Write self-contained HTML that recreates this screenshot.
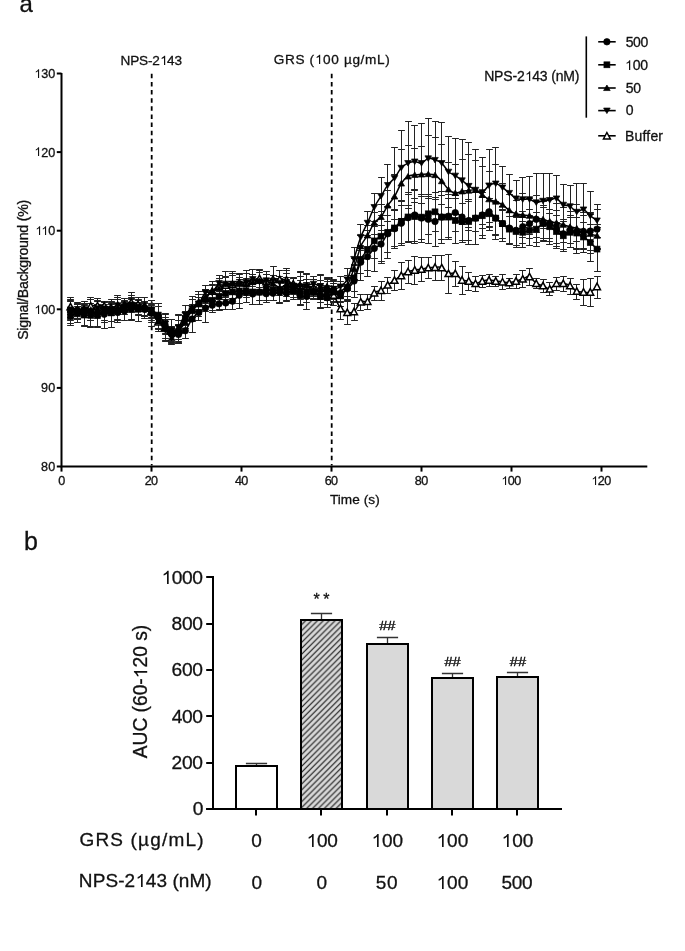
<!DOCTYPE html><html><head><meta charset="utf-8"><style>html,body{margin:0;padding:0;background:#fff;overflow:hidden}svg{display:block;will-change:transform}text{font-family:"Liberation Sans",sans-serif;fill:#111;stroke:#111;stroke-width:0.3px}.h{fill-opacity:0;stroke-opacity:0}.one{fill:#111;stroke:#111;stroke-width:0.3px}</style></head><body>
<svg width="685" height="951" viewBox="0 0 685 951">
<rect width="685" height="951" fill="#fff"/>
<text x="19.58" y="11.60" font-size="24">a</text>
<text x="24.07" y="549.80" font-size="25">b</text>
<g stroke="#000" stroke-width="2" fill="none">
<path d="M61.5,73.0V466.5H647.3"/>
<path d="M56.8,466.50H61.5"/>
<path d="M56.8,387.90H61.5"/>
<path d="M56.8,309.30H61.5"/>
<path d="M56.8,230.70H61.5"/>
<path d="M56.8,152.10H61.5"/>
<path d="M56.8,73.50H61.5"/>
<path d="M61.5,466.5V471.6"/>
<path d="M151.5,466.5V471.6"/>
<path d="M241.5,466.5V471.6"/>
<path d="M331.5,466.5V471.6"/>
<path d="M421.5,466.5V471.6"/>
<path d="M511.5,466.5V471.6"/>
<path d="M601.5,466.5V471.6"/>
</g>
<g stroke="#000" stroke-width="1.8" stroke-dasharray="4.5 3.628">
<path d="M151.7,73.8V465.5"/>
<path d="M331.7,73.8V465.5"/>
</g>
<text x="41.10" y="470.90" font-size="12.6" textLength="14.20" lengthAdjust="spacing">80</text>
<text x="41.10" y="392.30" font-size="12.6" textLength="14.20" lengthAdjust="spacing">90</text>
<text id="o1" x="34.40" y="313.70" font-size="12.6" textLength="20.89" lengthAdjust="spacing"><tspan class="h">1</tspan>00</text>
<text id="o2" x="35.30" y="235.10" font-size="12.6" textLength="20.00" lengthAdjust="spacing"><tspan class="h">1</tspan><tspan class="h">1</tspan>0</text>
<text id="o3" x="34.40" y="156.50" font-size="12.6" textLength="20.89" lengthAdjust="spacing"><tspan class="h">1</tspan>20</text>
<text id="o4" x="34.40" y="77.90" font-size="12.6" textLength="20.89" lengthAdjust="spacing"><tspan class="h">1</tspan>30</text>
<text x="58.13" y="484.60" font-size="12.6">0</text>
<text x="144.74" y="484.60" font-size="12.6" textLength="13.40" lengthAdjust="spacing">20</text>
<text x="234.92" y="484.60" font-size="12.6" textLength="13.39" lengthAdjust="spacing">40</text>
<text x="324.74" y="484.60" font-size="12.6" textLength="13.40" lengthAdjust="spacing">60</text>
<text x="414.78" y="484.60" font-size="12.6" textLength="13.40" lengthAdjust="spacing">80</text>
<text id="o5" x="501.23" y="484.60" font-size="12.6" textLength="20.09" lengthAdjust="spacing"><tspan class="h">1</tspan>00</text>
<text id="o6" x="591.22" y="484.60" font-size="12.6" textLength="20.09" lengthAdjust="spacing"><tspan class="h">1</tspan>20</text>
<text x="329.89" y="503.50" font-size="13.6" textLength="49.78" lengthAdjust="spacing">Time (s)</text>
<text transform="translate(27.60,339.84) rotate(-90)" x="0" y="0" font-size="14.2" textLength="140.13" lengthAdjust="spacing">Signal/Background (%)</text>
<text id="o7" x="120.48" y="65.20" font-size="13.6" textLength="61.52" lengthAdjust="spacing">NPS-2<tspan class="h">1</tspan>43</text>
<text id="o8" x="273.72" y="63.60" font-size="13.6" textLength="116.05" lengthAdjust="spacing">GRS (<tspan class="h">1</tspan>00 µg/mL)</text>
<path d="M586.3,36.4V117.7" stroke="#000" stroke-width="1.6"/>
<text id="o9" x="484.15" y="80.80" font-size="14" textLength="95.32" lengthAdjust="spacing">NPS-2<tspan class="h">1</tspan>43 (nM)</text>
<path d="M598.2,41.8H615.7" stroke="#000" stroke-width="1.6"/>
<g stroke="#000" stroke-width="0.7"><circle cx="606.90" cy="41.80" r="3.24"/></g>
<text x="625.64" y="46.50" font-size="14" textLength="22.70" lengthAdjust="spacing">500</text>
<path d="M598.2,64.8H615.7" stroke="#000" stroke-width="1.6"/>
<g stroke="#000" stroke-width="0.7"><rect x="603.96" y="61.86" width="5.88" height="5.88"/></g>
<text id="o10" x="625.15" y="69.50" font-size="14" textLength="22.99" lengthAdjust="spacing"><tspan class="h">1</tspan>00</text>
<path d="M598.2,88.0H615.7" stroke="#000" stroke-width="1.6"/>
<g stroke="#000" stroke-width="0.7"><path d="M606.90,85.00L610.20,90.55L603.60,90.55Z"/></g>
<text x="625.64" y="92.70" font-size="14" textLength="15.32" lengthAdjust="spacing">50</text>
<path d="M598.2,110.6H615.7" stroke="#000" stroke-width="1.6"/>
<g stroke="#000" stroke-width="0.7"><path d="M606.90,113.60L610.20,108.05L603.60,108.05Z"/></g>
<text x="625.64" y="115.30" font-size="14">0</text>
<path d="M598.2,135.8H615.7" stroke="#000" stroke-width="1.6"/>
<g stroke="#000" stroke-width="0.7"><path d="M606.90,132.50L610.35,138.95L603.45,138.95Z" fill="#fff" stroke="#000" stroke-width="1.5"/></g>
<text x="625.05" y="140.50" font-size="14" textLength="37.97" lengthAdjust="spacing">Buffer</text>
<g stroke="#222" stroke-width="1" fill="none">
<path d="M70.50,299.50V314.50M67.10,299.50h6.8M67.10,314.50h6.8"/>
<path d="M77.50,303.50V319.50M74.10,303.50h6.8M74.10,319.50h6.8"/>
<path d="M84.50,303.50V315.50M81.10,303.50h6.8M81.10,315.50h6.8"/>
<path d="M90.50,297.50V315.50M87.10,297.50h6.8M87.10,315.50h6.8"/>
<path d="M97.50,298.50V314.50M94.10,298.50h6.8M94.10,314.50h6.8"/>
<path d="M104.50,301.50V311.50M101.10,301.50h6.8M101.10,311.50h6.8"/>
<path d="M111.50,302.50V313.50M108.10,302.50h6.8M108.10,313.50h6.8"/>
<path d="M117.50,299.50V312.50M114.10,299.50h6.8M114.10,312.50h6.8"/>
<path d="M124.50,300.50V310.50M121.10,300.50h6.8M121.10,310.50h6.8"/>
<path d="M131.50,295.50V309.50M128.10,295.50h6.8M128.10,309.50h6.8"/>
<path d="M138.50,300.50V309.50M135.10,300.50h6.8M135.10,309.50h6.8"/>
<path d="M144.50,301.50V311.50M141.10,301.50h6.8M141.10,311.50h6.8"/>
<path d="M151.50,304.50V318.50M148.10,304.50h6.8M148.10,318.50h6.8"/>
<path d="M158.50,316.50V328.50M155.10,316.50h6.8M155.10,328.50h6.8"/>
<path d="M165.50,314.50V341.50M162.10,314.50h6.8M162.10,341.50h6.8"/>
<path d="M171.50,319.50V343.50M168.10,319.50h6.8M168.10,343.50h6.8"/>
<path d="M178.50,315.50V342.50M175.10,315.50h6.8M175.10,342.50h6.8"/>
<path d="M185.50,311.50V325.50M182.10,311.50h6.8M182.10,325.50h6.8"/>
<path d="M192.50,296.50V320.50M189.10,296.50h6.8M189.10,320.50h6.8"/>
<path d="M198.50,291.50V314.50M195.10,291.50h6.8M195.10,314.50h6.8"/>
<path d="M205.50,289.50V307.50M202.10,289.50h6.8M202.10,307.50h6.8"/>
<path d="M212.50,284.50V298.50M209.10,284.50h6.8M209.10,298.50h6.8"/>
<path d="M219.50,278.50V295.50M216.10,278.50h6.8M216.10,295.50h6.8"/>
<path d="M225.50,271.50V299.50M222.10,271.50h6.8M222.10,299.50h6.8"/>
<path d="M232.50,271.50V298.50M229.10,271.50h6.8M229.10,298.50h6.8"/>
<path d="M239.50,274.50V291.50M236.10,274.50h6.8M236.10,291.50h6.8"/>
<path d="M246.50,270.50V295.50M243.10,270.50h6.8M243.10,295.50h6.8"/>
<path d="M252.50,274.50V286.50M249.10,274.50h6.8M249.10,286.50h6.8"/>
<path d="M259.50,270.50V287.50M256.10,270.50h6.8M256.10,287.50h6.8"/>
<path d="M266.50,274.50V289.50M263.10,274.50h6.8M263.10,289.50h6.8"/>
<path d="M273.50,266.50V293.50M270.10,266.50h6.8M270.10,293.50h6.8"/>
<path d="M279.50,270.50V288.50M276.10,270.50h6.8M276.10,288.50h6.8"/>
<path d="M286.50,268.50V292.50M283.10,268.50h6.8M283.10,292.50h6.8"/>
<path d="M293.50,278.50V290.50M290.10,278.50h6.8M290.10,290.50h6.8"/>
<path d="M300.50,272.50V299.50M297.10,272.50h6.8M297.10,299.50h6.8"/>
<path d="M306.50,274.50V298.50M303.10,274.50h6.8M303.10,298.50h6.8"/>
<path d="M313.50,279.50V296.50M310.10,279.50h6.8M310.10,296.50h6.8"/>
<path d="M320.50,275.50V302.50M317.10,275.50h6.8M317.10,302.50h6.8"/>
<path d="M327.50,279.50V295.50M324.10,279.50h6.8M324.10,295.50h6.8"/>
<path d="M333.50,286.50V305.50M330.10,286.50h6.8M330.10,305.50h6.8"/>
<path d="M340.50,298.50V319.50M337.10,298.50h6.8M337.10,319.50h6.8"/>
<path d="M347.50,301.50V324.50M344.10,301.50h6.8M344.10,324.50h6.8"/>
<path d="M354.50,303.50V320.50M351.10,303.50h6.8M351.10,320.50h6.8"/>
<path d="M360.50,294.50V310.50M357.10,294.50h6.8M357.10,310.50h6.8"/>
<path d="M367.50,294.50V309.50M364.10,294.50h6.8M364.10,309.50h6.8"/>
<path d="M374.50,286.50V300.50M371.10,286.50h6.8M371.10,300.50h6.8"/>
<path d="M381.50,281.50V300.50M378.10,281.50h6.8M378.10,300.50h6.8"/>
<path d="M387.50,277.50V293.50M384.10,277.50h6.8M384.10,293.50h6.8"/>
<path d="M394.50,270.50V290.50M391.10,270.50h6.8M391.10,290.50h6.8"/>
<path d="M401.50,262.50V289.50M398.10,262.50h6.8M398.10,289.50h6.8"/>
<path d="M408.50,260.50V283.50M405.10,260.50h6.8M405.10,283.50h6.8"/>
<path d="M414.50,256.50V284.50M411.10,256.50h6.8M411.10,284.50h6.8"/>
<path d="M421.50,257.50V281.50M418.10,257.50h6.8M418.10,281.50h6.8"/>
<path d="M428.50,257.50V278.50M425.10,257.50h6.8M425.10,278.50h6.8"/>
<path d="M435.50,255.50V280.50M432.10,255.50h6.8M432.10,280.50h6.8"/>
<path d="M441.50,255.50V280.50M438.10,255.50h6.8M438.10,280.50h6.8"/>
<path d="M448.50,254.50V293.50M445.10,254.50h6.8M445.10,293.50h6.8"/>
<path d="M455.50,261.50V286.50M452.10,261.50h6.8M452.10,286.50h6.8"/>
<path d="M462.50,266.50V294.50M459.10,266.50h6.8M459.10,294.50h6.8"/>
<path d="M468.50,272.50V290.50M465.10,272.50h6.8M465.10,290.50h6.8"/>
<path d="M475.50,276.50V291.50M472.10,276.50h6.8M472.10,291.50h6.8"/>
<path d="M482.50,275.50V287.50M479.10,275.50h6.8M479.10,287.50h6.8"/>
<path d="M489.50,274.50V286.50M486.10,274.50h6.8M486.10,286.50h6.8"/>
<path d="M495.50,276.50V286.50M492.10,276.50h6.8M492.10,286.50h6.8"/>
<path d="M502.50,274.50V289.50M499.10,274.50h6.8M499.10,289.50h6.8"/>
<path d="M509.50,278.50V288.50M506.10,278.50h6.8M506.10,288.50h6.8"/>
<path d="M516.50,274.50V288.50M513.10,274.50h6.8M513.10,288.50h6.8"/>
<path d="M522.50,270.50V287.50M519.10,270.50h6.8M519.10,287.50h6.8"/>
<path d="M529.50,268.50V285.50M526.10,268.50h6.8M526.10,285.50h6.8"/>
<path d="M536.50,278.50V288.50M533.10,278.50h6.8M533.10,288.50h6.8"/>
<path d="M543.50,279.50V292.50M540.10,279.50h6.8M540.10,292.50h6.8"/>
<path d="M549.50,282.50V295.50M546.10,282.50h6.8M546.10,295.50h6.8"/>
<path d="M556.50,277.50V290.50M553.10,277.50h6.8M553.10,290.50h6.8"/>
<path d="M563.50,276.50V291.50M560.10,276.50h6.8M560.10,291.50h6.8"/>
<path d="M570.50,278.50V294.50M567.10,278.50h6.8M567.10,294.50h6.8"/>
<path d="M576.50,284.50V299.50M573.10,284.50h6.8M573.10,299.50h6.8"/>
<path d="M583.50,279.50V305.50M580.10,279.50h6.8M580.10,305.50h6.8"/>
<path d="M590.50,278.50V306.50M587.10,278.50h6.8M587.10,306.50h6.8"/>
<path d="M597.50,276.50V298.50M594.10,276.50h6.8M594.10,298.50h6.8"/>
<path d="M70.50,297.50V325.50M67.10,297.50h6.8M67.10,325.50h6.8"/>
<path d="M77.50,302.50V318.50M74.10,302.50h6.8M74.10,318.50h6.8"/>
<path d="M84.50,303.50V317.50M81.10,303.50h6.8M81.10,317.50h6.8"/>
<path d="M90.50,299.50V326.50M87.10,299.50h6.8M87.10,326.50h6.8"/>
<path d="M97.50,300.50V326.50M94.10,300.50h6.8M94.10,326.50h6.8"/>
<path d="M104.50,301.50V328.50M101.10,301.50h6.8M101.10,328.50h6.8"/>
<path d="M111.50,301.50V321.50M108.10,301.50h6.8M108.10,321.50h6.8"/>
<path d="M117.50,306.50V319.50M114.10,306.50h6.8M114.10,319.50h6.8"/>
<path d="M124.50,301.50V320.50M121.10,301.50h6.8M121.10,320.50h6.8"/>
<path d="M131.50,298.50V320.50M128.10,298.50h6.8M128.10,320.50h6.8"/>
<path d="M138.50,302.50V314.50M135.10,302.50h6.8M135.10,314.50h6.8"/>
<path d="M144.50,303.50V316.50M141.10,303.50h6.8M141.10,316.50h6.8"/>
<path d="M151.50,305.50V322.50M148.10,305.50h6.8M148.10,322.50h6.8"/>
<path d="M158.50,306.50V329.50M155.10,306.50h6.8M155.10,329.50h6.8"/>
<path d="M165.50,317.50V333.50M162.10,317.50h6.8M162.10,333.50h6.8"/>
<path d="M171.50,326.50V342.50M168.10,326.50h6.8M168.10,342.50h6.8"/>
<path d="M178.50,325.50V343.50M175.10,325.50h6.8M175.10,343.50h6.8"/>
<path d="M185.50,324.50V338.50M182.10,324.50h6.8M182.10,338.50h6.8"/>
<path d="M192.50,306.50V332.50M189.10,306.50h6.8M189.10,332.50h6.8"/>
<path d="M198.50,305.50V320.50M195.10,305.50h6.8M195.10,320.50h6.8"/>
<path d="M205.50,294.50V322.50M202.10,294.50h6.8M202.10,322.50h6.8"/>
<path d="M212.50,298.50V312.50M209.10,298.50h6.8M209.10,312.50h6.8"/>
<path d="M219.50,297.50V310.50M216.10,297.50h6.8M216.10,310.50h6.8"/>
<path d="M225.50,297.50V309.50M222.10,297.50h6.8M222.10,309.50h6.8"/>
<path d="M232.50,293.50V309.50M229.10,293.50h6.8M229.10,309.50h6.8"/>
<path d="M239.50,282.50V308.50M236.10,282.50h6.8M236.10,308.50h6.8"/>
<path d="M246.50,283.50V302.50M243.10,283.50h6.8M243.10,302.50h6.8"/>
<path d="M252.50,284.50V304.50M249.10,284.50h6.8M249.10,304.50h6.8"/>
<path d="M259.50,283.50V300.50M256.10,283.50h6.8M256.10,300.50h6.8"/>
<path d="M266.50,286.50V302.50M263.10,286.50h6.8M263.10,302.50h6.8"/>
<path d="M273.50,287.50V300.50M270.10,287.50h6.8M270.10,300.50h6.8"/>
<path d="M279.50,281.50V303.50M276.10,281.50h6.8M276.10,303.50h6.8"/>
<path d="M286.50,286.50V301.50M283.10,286.50h6.8M283.10,301.50h6.8"/>
<path d="M293.50,283.50V299.50M290.10,283.50h6.8M290.10,299.50h6.8"/>
<path d="M300.50,286.50V305.50M297.10,286.50h6.8M297.10,305.50h6.8"/>
<path d="M306.50,284.50V309.50M303.10,284.50h6.8M303.10,309.50h6.8"/>
<path d="M313.50,286.50V298.50M310.10,286.50h6.8M310.10,298.50h6.8"/>
<path d="M320.50,283.50V307.50M317.10,283.50h6.8M317.10,307.50h6.8"/>
<path d="M327.50,288.50V307.50M324.10,288.50h6.8M324.10,307.50h6.8"/>
<path d="M333.50,281.50V302.50M330.10,281.50h6.8M330.10,302.50h6.8"/>
<path d="M340.50,285.50V302.50M337.10,285.50h6.8M337.10,302.50h6.8"/>
<path d="M347.50,277.50V300.50M344.10,277.50h6.8M344.10,300.50h6.8"/>
<path d="M354.50,265.50V297.50M351.10,265.50h6.8M351.10,297.50h6.8"/>
<path d="M360.50,245.50V280.50M357.10,245.50h6.8M357.10,280.50h6.8"/>
<path d="M367.50,237.50V276.50M364.10,237.50h6.8M364.10,276.50h6.8"/>
<path d="M374.50,226.50V271.50M371.10,226.50h6.8M371.10,271.50h6.8"/>
<path d="M381.50,225.50V263.50M378.10,225.50h6.8M378.10,263.50h6.8"/>
<path d="M387.50,215.50V252.50M384.10,215.50h6.8M384.10,252.50h6.8"/>
<path d="M394.50,210.50V248.50M391.10,210.50h6.8M391.10,248.50h6.8"/>
<path d="M401.50,201.50V245.50M398.10,201.50h6.8M398.10,245.50h6.8"/>
<path d="M408.50,194.50V241.50M405.10,194.50h6.8M405.10,241.50h6.8"/>
<path d="M414.50,189.50V241.50M411.10,189.50h6.8M411.10,241.50h6.8"/>
<path d="M421.50,194.50V242.50M418.10,194.50h6.8M418.10,242.50h6.8"/>
<path d="M428.50,196.50V243.50M425.10,196.50h6.8M425.10,243.50h6.8"/>
<path d="M435.50,197.50V246.50M432.10,197.50h6.8M432.10,246.50h6.8"/>
<path d="M441.50,195.50V239.50M438.10,195.50h6.8M438.10,239.50h6.8"/>
<path d="M448.50,194.50V239.50M445.10,194.50h6.8M445.10,239.50h6.8"/>
<path d="M455.50,195.50V231.50M452.10,195.50h6.8M452.10,231.50h6.8"/>
<path d="M462.50,193.50V242.50M459.10,193.50h6.8M459.10,242.50h6.8"/>
<path d="M468.50,201.50V240.50M465.10,201.50h6.8M465.10,240.50h6.8"/>
<path d="M475.50,192.50V244.50M472.10,192.50h6.8M472.10,244.50h6.8"/>
<path d="M482.50,192.50V238.50M479.10,192.50h6.8M479.10,238.50h6.8"/>
<path d="M489.50,198.50V226.50M486.10,198.50h6.8M486.10,226.50h6.8"/>
<path d="M495.50,202.50V234.50M492.10,202.50h6.8M492.10,234.50h6.8"/>
<path d="M502.50,210.50V238.50M499.10,210.50h6.8M499.10,238.50h6.8"/>
<path d="M509.50,212.50V244.50M506.10,212.50h6.8M506.10,244.50h6.8"/>
<path d="M516.50,215.50V245.50M513.10,215.50h6.8M513.10,245.50h6.8"/>
<path d="M522.50,211.50V243.50M519.10,211.50h6.8M519.10,243.50h6.8"/>
<path d="M529.50,209.50V238.50M526.10,209.50h6.8M526.10,238.50h6.8"/>
<path d="M536.50,201.50V237.50M533.10,201.50h6.8M533.10,237.50h6.8"/>
<path d="M543.50,205.50V240.50M540.10,205.50h6.8M540.10,240.50h6.8"/>
<path d="M549.50,209.50V238.50M546.10,209.50h6.8M546.10,238.50h6.8"/>
<path d="M556.50,210.50V246.50M553.10,210.50h6.8M553.10,246.50h6.8"/>
<path d="M563.50,219.50V249.50M560.10,219.50h6.8M560.10,249.50h6.8"/>
<path d="M570.50,215.50V247.50M567.10,215.50h6.8M567.10,247.50h6.8"/>
<path d="M576.50,217.50V248.50M573.10,217.50h6.8M573.10,248.50h6.8"/>
<path d="M583.50,215.50V248.50M580.10,215.50h6.8M580.10,248.50h6.8"/>
<path d="M590.50,212.50V250.50M587.10,212.50h6.8M587.10,250.50h6.8"/>
<path d="M597.50,209.50V249.50M594.10,209.50h6.8M594.10,249.50h6.8"/>
<path d="M70.50,311.50V323.50M67.10,311.50h6.8M67.10,323.50h6.8"/>
<path d="M77.50,306.50V322.50M74.10,306.50h6.8M74.10,322.50h6.8"/>
<path d="M84.50,304.50V326.50M81.10,304.50h6.8M81.10,326.50h6.8"/>
<path d="M90.50,303.50V327.50M87.10,303.50h6.8M87.10,327.50h6.8"/>
<path d="M97.50,304.50V327.50M94.10,304.50h6.8M94.10,327.50h6.8"/>
<path d="M104.50,302.50V320.50M101.10,302.50h6.8M101.10,320.50h6.8"/>
<path d="M111.50,299.50V327.50M108.10,299.50h6.8M108.10,327.50h6.8"/>
<path d="M117.50,299.50V322.50M114.10,299.50h6.8M114.10,322.50h6.8"/>
<path d="M124.50,302.50V314.50M121.10,302.50h6.8M121.10,314.50h6.8"/>
<path d="M131.50,292.50V319.50M128.10,292.50h6.8M128.10,319.50h6.8"/>
<path d="M138.50,297.50V321.50M135.10,297.50h6.8M135.10,321.50h6.8"/>
<path d="M144.50,302.50V316.50M141.10,302.50h6.8M141.10,316.50h6.8"/>
<path d="M151.50,300.50V320.50M148.10,300.50h6.8M148.10,320.50h6.8"/>
<path d="M158.50,303.50V328.50M155.10,303.50h6.8M155.10,328.50h6.8"/>
<path d="M165.50,313.50V334.50M162.10,313.50h6.8M162.10,334.50h6.8"/>
<path d="M171.50,319.50V342.50M168.10,319.50h6.8M168.10,342.50h6.8"/>
<path d="M178.50,324.50V339.50M175.10,324.50h6.8M175.10,339.50h6.8"/>
<path d="M185.50,312.50V325.50M182.10,312.50h6.8M182.10,325.50h6.8"/>
<path d="M192.50,304.50V317.50M189.10,304.50h6.8M189.10,317.50h6.8"/>
<path d="M198.50,294.50V314.50M195.10,294.50h6.8M195.10,314.50h6.8"/>
<path d="M205.50,289.50V311.50M202.10,289.50h6.8M202.10,311.50h6.8"/>
<path d="M212.50,290.50V310.50M209.10,290.50h6.8M209.10,310.50h6.8"/>
<path d="M219.50,284.50V309.50M216.10,284.50h6.8M216.10,309.50h6.8"/>
<path d="M225.50,284.50V303.50M222.10,284.50h6.8M222.10,303.50h6.8"/>
<path d="M232.50,281.50V303.50M229.10,281.50h6.8M229.10,303.50h6.8"/>
<path d="M239.50,279.50V303.50M236.10,279.50h6.8M236.10,303.50h6.8"/>
<path d="M246.50,285.50V297.50M243.10,285.50h6.8M243.10,297.50h6.8"/>
<path d="M252.50,280.50V304.50M249.10,280.50h6.8M249.10,304.50h6.8"/>
<path d="M259.50,280.50V304.50M256.10,280.50h6.8M256.10,304.50h6.8"/>
<path d="M266.50,280.50V300.50M263.10,280.50h6.8M263.10,300.50h6.8"/>
<path d="M273.50,280.50V300.50M270.10,280.50h6.8M270.10,300.50h6.8"/>
<path d="M279.50,278.50V302.50M276.10,278.50h6.8M276.10,302.50h6.8"/>
<path d="M286.50,277.50V300.50M283.10,277.50h6.8M283.10,300.50h6.8"/>
<path d="M293.50,283.50V297.50M290.10,283.50h6.8M290.10,297.50h6.8"/>
<path d="M300.50,280.50V304.50M297.10,280.50h6.8M297.10,304.50h6.8"/>
<path d="M306.50,282.50V302.50M303.10,282.50h6.8M303.10,302.50h6.8"/>
<path d="M313.50,286.50V299.50M310.10,286.50h6.8M310.10,299.50h6.8"/>
<path d="M320.50,285.50V308.50M317.10,285.50h6.8M317.10,308.50h6.8"/>
<path d="M327.50,281.50V304.50M324.10,281.50h6.8M324.10,304.50h6.8"/>
<path d="M333.50,283.50V301.50M330.10,283.50h6.8M330.10,301.50h6.8"/>
<path d="M340.50,286.50V306.50M337.10,286.50h6.8M337.10,306.50h6.8"/>
<path d="M347.50,275.50V299.50M344.10,275.50h6.8M344.10,299.50h6.8"/>
<path d="M354.50,264.50V291.50M351.10,264.50h6.8M351.10,291.50h6.8"/>
<path d="M360.50,246.50V273.50M357.10,246.50h6.8M357.10,273.50h6.8"/>
<path d="M367.50,230.50V270.50M364.10,230.50h6.8M364.10,270.50h6.8"/>
<path d="M374.50,224.50V258.50M371.10,224.50h6.8M371.10,258.50h6.8"/>
<path d="M381.50,211.50V261.50M378.10,211.50h6.8M378.10,261.50h6.8"/>
<path d="M387.50,206.50V258.50M384.10,206.50h6.8M384.10,258.50h6.8"/>
<path d="M394.50,210.50V246.50M391.10,210.50h6.8M391.10,246.50h6.8"/>
<path d="M401.50,200.50V243.50M398.10,200.50h6.8M398.10,243.50h6.8"/>
<path d="M408.50,192.50V242.50M405.10,192.50h6.8M405.10,242.50h6.8"/>
<path d="M414.50,190.50V243.50M411.10,190.50h6.8M411.10,243.50h6.8"/>
<path d="M421.50,196.50V239.50M418.10,196.50h6.8M418.10,239.50h6.8"/>
<path d="M428.50,194.50V234.50M425.10,194.50h6.8M425.10,234.50h6.8"/>
<path d="M435.50,192.50V231.50M432.10,192.50h6.8M432.10,231.50h6.8"/>
<path d="M441.50,191.50V243.50M438.10,191.50h6.8M438.10,243.50h6.8"/>
<path d="M448.50,198.50V237.50M445.10,198.50h6.8M445.10,237.50h6.8"/>
<path d="M455.50,198.50V243.50M452.10,198.50h6.8M452.10,243.50h6.8"/>
<path d="M462.50,203.50V240.50M459.10,203.50h6.8M459.10,240.50h6.8"/>
<path d="M468.50,199.50V244.50M465.10,199.50h6.8M465.10,244.50h6.8"/>
<path d="M475.50,192.50V244.50M472.10,192.50h6.8M472.10,244.50h6.8"/>
<path d="M482.50,197.50V235.50M479.10,197.50h6.8M479.10,235.50h6.8"/>
<path d="M489.50,198.50V230.50M486.10,198.50h6.8M486.10,230.50h6.8"/>
<path d="M495.50,201.50V235.50M492.10,201.50h6.8M492.10,235.50h6.8"/>
<path d="M502.50,206.50V241.50M499.10,206.50h6.8M499.10,241.50h6.8"/>
<path d="M509.50,216.50V243.50M506.10,216.50h6.8M506.10,243.50h6.8"/>
<path d="M516.50,216.50V247.50M513.10,216.50h6.8M513.10,247.50h6.8"/>
<path d="M522.50,217.50V247.50M519.10,217.50h6.8M519.10,247.50h6.8"/>
<path d="M529.50,215.50V245.50M526.10,215.50h6.8M526.10,245.50h6.8"/>
<path d="M536.50,212.50V246.50M533.10,212.50h6.8M533.10,246.50h6.8"/>
<path d="M543.50,207.50V241.50M540.10,207.50h6.8M540.10,241.50h6.8"/>
<path d="M549.50,213.50V241.50M546.10,213.50h6.8M546.10,241.50h6.8"/>
<path d="M556.50,215.50V248.50M553.10,215.50h6.8M553.10,248.50h6.8"/>
<path d="M563.50,221.50V251.50M560.10,221.50h6.8M560.10,251.50h6.8"/>
<path d="M570.50,217.50V247.50M567.10,217.50h6.8M567.10,247.50h6.8"/>
<path d="M576.50,217.50V249.50M573.10,217.50h6.8M573.10,249.50h6.8"/>
<path d="M583.50,222.50V252.50M580.10,222.50h6.8M580.10,252.50h6.8"/>
<path d="M590.50,224.50V261.50M587.10,224.50h6.8M587.10,261.50h6.8"/>
<path d="M597.50,227.50V271.50M594.10,227.50h6.8M594.10,271.50h6.8"/>
<path d="M70.50,300.50V320.50M67.10,300.50h6.8M67.10,320.50h6.8"/>
<path d="M77.50,304.50V319.50M74.10,304.50h6.8M74.10,319.50h6.8"/>
<path d="M84.50,301.50V325.50M81.10,301.50h6.8M81.10,325.50h6.8"/>
<path d="M90.50,299.50V320.50M87.10,299.50h6.8M87.10,320.50h6.8"/>
<path d="M97.50,304.50V316.50M94.10,304.50h6.8M94.10,316.50h6.8"/>
<path d="M104.50,301.50V322.50M101.10,301.50h6.8M101.10,322.50h6.8"/>
<path d="M111.50,303.50V315.50M108.10,303.50h6.8M108.10,315.50h6.8"/>
<path d="M117.50,295.50V320.50M114.10,295.50h6.8M114.10,320.50h6.8"/>
<path d="M124.50,298.50V311.50M121.10,298.50h6.8M121.10,311.50h6.8"/>
<path d="M131.50,299.50V311.50M128.10,299.50h6.8M128.10,311.50h6.8"/>
<path d="M138.50,299.50V315.50M135.10,299.50h6.8M135.10,315.50h6.8"/>
<path d="M144.50,297.50V315.50M141.10,297.50h6.8M141.10,315.50h6.8"/>
<path d="M151.50,300.50V326.50M148.10,300.50h6.8M148.10,326.50h6.8"/>
<path d="M158.50,315.50V328.50M155.10,315.50h6.8M155.10,328.50h6.8"/>
<path d="M165.50,319.50V340.50M162.10,319.50h6.8M162.10,340.50h6.8"/>
<path d="M171.50,332.50V344.50M168.10,332.50h6.8M168.10,344.50h6.8"/>
<path d="M178.50,320.50V343.50M175.10,320.50h6.8M175.10,343.50h6.8"/>
<path d="M185.50,316.50V328.50M182.10,316.50h6.8M182.10,328.50h6.8"/>
<path d="M192.50,299.50V321.50M189.10,299.50h6.8M189.10,321.50h6.8"/>
<path d="M198.50,297.50V309.50M195.10,297.50h6.8M195.10,309.50h6.8"/>
<path d="M205.50,291.50V303.50M202.10,291.50h6.8M202.10,303.50h6.8"/>
<path d="M212.50,281.50V300.50M209.10,281.50h6.8M209.10,300.50h6.8"/>
<path d="M219.50,278.50V299.50M216.10,278.50h6.8M216.10,299.50h6.8"/>
<path d="M225.50,276.50V292.50M222.10,276.50h6.8M222.10,292.50h6.8"/>
<path d="M232.50,273.50V294.50M229.10,273.50h6.8M229.10,294.50h6.8"/>
<path d="M239.50,277.50V290.50M236.10,277.50h6.8M236.10,290.50h6.8"/>
<path d="M246.50,278.50V291.50M243.10,278.50h6.8M243.10,291.50h6.8"/>
<path d="M252.50,274.50V290.50M249.10,274.50h6.8M249.10,290.50h6.8"/>
<path d="M259.50,269.50V293.50M256.10,269.50h6.8M256.10,293.50h6.8"/>
<path d="M266.50,274.50V294.50M263.10,274.50h6.8M263.10,294.50h6.8"/>
<path d="M273.50,275.50V292.50M270.10,275.50h6.8M270.10,292.50h6.8"/>
<path d="M279.50,280.50V295.50M276.10,280.50h6.8M276.10,295.50h6.8"/>
<path d="M286.50,273.50V296.50M283.10,273.50h6.8M283.10,296.50h6.8"/>
<path d="M293.50,278.50V293.50M290.10,278.50h6.8M290.10,293.50h6.8"/>
<path d="M300.50,271.50V298.50M297.10,271.50h6.8M297.10,298.50h6.8"/>
<path d="M306.50,273.50V298.50M303.10,273.50h6.8M303.10,298.50h6.8"/>
<path d="M313.50,279.50V299.50M310.10,279.50h6.8M310.10,299.50h6.8"/>
<path d="M320.50,280.50V298.50M317.10,280.50h6.8M317.10,298.50h6.8"/>
<path d="M327.50,277.50V300.50M324.10,277.50h6.8M324.10,300.50h6.8"/>
<path d="M333.50,280.50V301.50M330.10,280.50h6.8M330.10,301.50h6.8"/>
<path d="M340.50,281.50V301.50M337.10,281.50h6.8M337.10,301.50h6.8"/>
<path d="M347.50,275.50V296.50M344.10,275.50h6.8M344.10,296.50h6.8"/>
<path d="M354.50,258.50V279.50M351.10,258.50h6.8M351.10,279.50h6.8"/>
<path d="M360.50,235.50V258.50M357.10,235.50h6.8M357.10,258.50h6.8"/>
<path d="M367.50,225.50V246.50M364.10,225.50h6.8M364.10,246.50h6.8"/>
<path d="M374.50,212.50V234.50M371.10,212.50h6.8M371.10,234.50h6.8"/>
<path d="M381.50,204.50V230.50M378.10,204.50h6.8M378.10,230.50h6.8"/>
<path d="M387.50,190.50V221.50M384.10,190.50h6.8M384.10,221.50h6.8"/>
<path d="M394.50,174.50V219.50M391.10,174.50h6.8M391.10,219.50h6.8"/>
<path d="M401.50,149.50V218.50M398.10,149.50h6.8M398.10,218.50h6.8"/>
<path d="M408.50,145.50V208.50M405.10,145.50h6.8M405.10,208.50h6.8"/>
<path d="M414.50,148.50V202.50M411.10,148.50h6.8M411.10,202.50h6.8"/>
<path d="M421.50,146.50V203.50M418.10,146.50h6.8M418.10,203.50h6.8"/>
<path d="M428.50,135.50V213.50M425.10,135.50h6.8M425.10,213.50h6.8"/>
<path d="M435.50,137.50V213.50M432.10,137.50h6.8M432.10,213.50h6.8"/>
<path d="M441.50,144.50V218.50M438.10,144.50h6.8M438.10,218.50h6.8"/>
<path d="M448.50,162.50V217.50M445.10,162.50h6.8M445.10,217.50h6.8"/>
<path d="M455.50,164.50V222.50M452.10,164.50h6.8M452.10,222.50h6.8"/>
<path d="M462.50,159.50V224.50M459.10,159.50h6.8M459.10,224.50h6.8"/>
<path d="M468.50,154.50V227.50M465.10,154.50h6.8M465.10,227.50h6.8"/>
<path d="M475.50,160.50V220.50M472.10,160.50h6.8M472.10,220.50h6.8"/>
<path d="M482.50,166.50V224.50M479.10,166.50h6.8M479.10,224.50h6.8"/>
<path d="M489.50,171.50V227.50M486.10,171.50h6.8M486.10,227.50h6.8"/>
<path d="M495.50,164.50V239.50M492.10,164.50h6.8M492.10,239.50h6.8"/>
<path d="M502.50,183.50V226.50M499.10,183.50h6.8M499.10,226.50h6.8"/>
<path d="M509.50,194.50V227.50M506.10,194.50h6.8M506.10,227.50h6.8"/>
<path d="M516.50,200.50V228.50M513.10,200.50h6.8M513.10,228.50h6.8"/>
<path d="M522.50,193.50V237.50M519.10,193.50h6.8M519.10,237.50h6.8"/>
<path d="M529.50,198.50V234.50M526.10,198.50h6.8M526.10,234.50h6.8"/>
<path d="M536.50,195.50V242.50M533.10,195.50h6.8M533.10,242.50h6.8"/>
<path d="M543.50,201.50V238.50M540.10,201.50h6.8M540.10,238.50h6.8"/>
<path d="M549.50,199.50V244.50M546.10,199.50h6.8M546.10,244.50h6.8"/>
<path d="M556.50,203.50V243.50M553.10,203.50h6.8M553.10,243.50h6.8"/>
<path d="M563.50,207.50V242.50M560.10,207.50h6.8M560.10,242.50h6.8"/>
<path d="M570.50,211.50V243.50M567.10,211.50h6.8M567.10,243.50h6.8"/>
<path d="M576.50,204.50V253.50M573.10,204.50h6.8M573.10,253.50h6.8"/>
<path d="M583.50,212.50V249.50M580.10,212.50h6.8M580.10,249.50h6.8"/>
<path d="M590.50,214.50V253.50M587.10,214.50h6.8M587.10,253.50h6.8"/>
<path d="M597.50,224.50V248.50M594.10,224.50h6.8M594.10,248.50h6.8"/>
<path d="M70.50,301.50V317.50M67.10,301.50h6.8M67.10,317.50h6.8"/>
<path d="M77.50,304.50V318.50M74.10,304.50h6.8M74.10,318.50h6.8"/>
<path d="M84.50,305.50V313.50M81.10,305.50h6.8M81.10,313.50h6.8"/>
<path d="M90.50,303.50V320.50M87.10,303.50h6.8M87.10,320.50h6.8"/>
<path d="M97.50,301.50V316.50M94.10,301.50h6.8M94.10,316.50h6.8"/>
<path d="M104.50,304.50V313.50M101.10,304.50h6.8M101.10,313.50h6.8"/>
<path d="M111.50,304.50V315.50M108.10,304.50h6.8M108.10,315.50h6.8"/>
<path d="M117.50,297.50V314.50M114.10,297.50h6.8M114.10,314.50h6.8"/>
<path d="M124.50,301.50V312.50M121.10,301.50h6.8M121.10,312.50h6.8"/>
<path d="M131.50,297.50V312.50M128.10,297.50h6.8M128.10,312.50h6.8"/>
<path d="M138.50,303.50V311.50M135.10,303.50h6.8M135.10,311.50h6.8"/>
<path d="M144.50,301.50V318.50M141.10,301.50h6.8M141.10,318.50h6.8"/>
<path d="M151.50,303.50V317.50M148.10,303.50h6.8M148.10,317.50h6.8"/>
<path d="M158.50,303.50V331.50M155.10,303.50h6.8M155.10,331.50h6.8"/>
<path d="M165.50,321.50V338.50M162.10,321.50h6.8M162.10,338.50h6.8"/>
<path d="M171.50,328.50V341.50M168.10,328.50h6.8M168.10,341.50h6.8"/>
<path d="M178.50,314.50V341.50M175.10,314.50h6.8M175.10,341.50h6.8"/>
<path d="M185.50,305.50V325.50M182.10,305.50h6.8M182.10,325.50h6.8"/>
<path d="M192.50,299.50V317.50M189.10,299.50h6.8M189.10,317.50h6.8"/>
<path d="M198.50,291.50V316.50M195.10,291.50h6.8M195.10,316.50h6.8"/>
<path d="M205.50,285.50V300.50M202.10,285.50h6.8M202.10,300.50h6.8"/>
<path d="M212.50,285.50V301.50M209.10,285.50h6.8M209.10,301.50h6.8"/>
<path d="M219.50,275.50V291.50M216.10,275.50h6.8M216.10,291.50h6.8"/>
<path d="M225.50,277.50V291.50M222.10,277.50h6.8M222.10,291.50h6.8"/>
<path d="M232.50,275.50V292.50M229.10,275.50h6.8M229.10,292.50h6.8"/>
<path d="M239.50,273.50V294.50M236.10,273.50h6.8M236.10,294.50h6.8"/>
<path d="M246.50,273.50V291.50M243.10,273.50h6.8M243.10,291.50h6.8"/>
<path d="M252.50,269.50V289.50M249.10,269.50h6.8M249.10,289.50h6.8"/>
<path d="M259.50,272.50V292.50M256.10,272.50h6.8M256.10,292.50h6.8"/>
<path d="M266.50,271.50V290.50M263.10,271.50h6.8M263.10,290.50h6.8"/>
<path d="M273.50,275.50V287.50M270.10,275.50h6.8M270.10,287.50h6.8"/>
<path d="M279.50,276.50V290.50M276.10,276.50h6.8M276.10,290.50h6.8"/>
<path d="M286.50,270.50V294.50M283.10,270.50h6.8M283.10,294.50h6.8"/>
<path d="M293.50,277.50V294.50M290.10,277.50h6.8M290.10,294.50h6.8"/>
<path d="M300.50,276.50V297.50M297.10,276.50h6.8M297.10,297.50h6.8"/>
<path d="M306.50,279.50V293.50M303.10,279.50h6.8M303.10,293.50h6.8"/>
<path d="M313.50,276.50V292.50M310.10,276.50h6.8M310.10,292.50h6.8"/>
<path d="M320.50,274.50V299.50M317.10,274.50h6.8M317.10,299.50h6.8"/>
<path d="M327.50,278.50V299.50M324.10,278.50h6.8M324.10,299.50h6.8"/>
<path d="M333.50,279.50V299.50M330.10,279.50h6.8M330.10,299.50h6.8"/>
<path d="M340.50,276.50V297.50M337.10,276.50h6.8M337.10,297.50h6.8"/>
<path d="M347.50,268.50V290.50M344.10,268.50h6.8M344.10,290.50h6.8"/>
<path d="M354.50,247.50V271.50M351.10,247.50h6.8M351.10,271.50h6.8"/>
<path d="M360.50,224.50V250.50M357.10,224.50h6.8M357.10,250.50h6.8"/>
<path d="M367.50,211.50V235.50M364.10,211.50h6.8M364.10,235.50h6.8"/>
<path d="M374.50,193.50V221.50M371.10,193.50h6.8M371.10,221.50h6.8"/>
<path d="M381.50,177.50V215.50M378.10,177.50h6.8M378.10,215.50h6.8"/>
<path d="M387.50,164.50V206.50M384.10,164.50h6.8M384.10,206.50h6.8"/>
<path d="M394.50,147.50V209.50M391.10,147.50h6.8M391.10,209.50h6.8"/>
<path d="M401.50,130.50V205.50M398.10,130.50h6.8M398.10,205.50h6.8"/>
<path d="M408.50,121.50V205.50M405.10,121.50h6.8M405.10,205.50h6.8"/>
<path d="M414.50,125.50V198.50M411.10,125.50h6.8M411.10,198.50h6.8"/>
<path d="M421.50,123.50V203.50M418.10,123.50h6.8M418.10,203.50h6.8"/>
<path d="M428.50,118.50V198.50M425.10,118.50h6.8M425.10,198.50h6.8"/>
<path d="M435.50,121.50V199.50M432.10,121.50h6.8M432.10,199.50h6.8"/>
<path d="M441.50,122.50V204.50M438.10,122.50h6.8M438.10,204.50h6.8"/>
<path d="M448.50,136.50V207.50M445.10,136.50h6.8M445.10,207.50h6.8"/>
<path d="M455.50,138.50V213.50M452.10,138.50h6.8M452.10,213.50h6.8"/>
<path d="M462.50,139.50V222.50M459.10,139.50h6.8M459.10,222.50h6.8"/>
<path d="M468.50,142.50V230.50M465.10,142.50h6.8M465.10,230.50h6.8"/>
<path d="M475.50,149.50V231.50M472.10,149.50h6.8M472.10,231.50h6.8"/>
<path d="M482.50,157.50V228.50M479.10,157.50h6.8M479.10,228.50h6.8"/>
<path d="M489.50,149.50V222.50M486.10,149.50h6.8M486.10,222.50h6.8"/>
<path d="M495.50,147.50V220.50M492.10,147.50h6.8M492.10,220.50h6.8"/>
<path d="M502.50,166.50V209.50M499.10,166.50h6.8M499.10,209.50h6.8"/>
<path d="M509.50,174.50V212.50M506.10,174.50h6.8M506.10,212.50h6.8"/>
<path d="M516.50,180.50V217.50M513.10,180.50h6.8M513.10,217.50h6.8"/>
<path d="M522.50,177.50V221.50M519.10,177.50h6.8M519.10,221.50h6.8"/>
<path d="M529.50,176.50V222.50M526.10,176.50h6.8M526.10,222.50h6.8"/>
<path d="M536.50,173.50V232.50M533.10,173.50h6.8M533.10,232.50h6.8"/>
<path d="M543.50,173.50V228.50M540.10,173.50h6.8M540.10,228.50h6.8"/>
<path d="M549.50,173.50V228.50M546.10,173.50h6.8M546.10,228.50h6.8"/>
<path d="M556.50,175.50V222.50M553.10,175.50h6.8M553.10,222.50h6.8"/>
<path d="M563.50,184.50V225.50M560.10,184.50h6.8M560.10,225.50h6.8"/>
<path d="M570.50,185.50V228.50M567.10,185.50h6.8M567.10,228.50h6.8"/>
<path d="M576.50,183.50V241.50M573.10,183.50h6.8M573.10,241.50h6.8"/>
<path d="M583.50,183.50V236.50M580.10,183.50h6.8M580.10,236.50h6.8"/>
<path d="M590.50,191.50V241.50M587.10,191.50h6.8M587.10,241.50h6.8"/>
<path d="M597.50,204.50V237.50M594.10,204.50h6.8M594.10,237.50h6.8"/>
</g>
<g stroke="#000" stroke-width="1.5" fill="none" stroke-linejoin="round">
<path d="M70.50,306.70C71.62,307.37 75.00,310.32 77.25,310.72C79.50,311.13 81.75,309.95 84.00,309.15C86.25,308.34 88.50,306.45 90.75,305.88C93.00,305.31 95.25,305.73 97.50,305.73C99.75,305.73 102.00,305.57 104.25,305.86C106.50,306.15 108.75,307.56 111.00,307.47C113.25,307.38 115.50,305.76 117.75,305.32C120.00,304.88 122.25,305.35 124.50,304.84C126.75,304.34 129.00,302.38 131.25,302.30C133.50,302.23 135.75,303.82 138.00,304.40C140.25,304.99 142.50,304.70 144.75,305.80C147.00,306.90 149.25,308.35 151.50,311.02C153.75,313.69 156.00,319.13 158.25,321.83C160.50,324.53 162.75,325.71 165.00,327.24C167.25,328.76 169.50,330.77 171.75,331.00C174.00,331.22 176.25,330.78 178.50,328.58C180.75,326.39 183.00,321.21 185.25,317.83C187.50,314.46 189.75,310.89 192.00,308.33C194.25,305.78 196.50,304.16 198.75,302.48C201.00,300.79 203.25,300.12 205.50,298.23C207.75,296.34 210.00,293.08 212.25,291.12C214.50,289.17 216.75,287.51 219.00,286.51C221.25,285.52 223.50,285.52 225.75,285.17C228.00,284.81 230.25,284.81 232.50,284.39C234.75,283.97 237.00,282.98 239.25,282.65C241.50,282.32 243.75,282.82 246.00,282.41C248.25,282.00 250.50,280.86 252.75,280.18C255.00,279.50 257.25,278.11 259.50,278.34C261.75,278.56 264.00,281.38 266.25,281.53C268.50,281.68 270.75,279.59 273.00,279.23C275.25,278.86 277.50,279.23 279.75,279.34C282.00,279.46 284.25,279.15 286.50,279.92C288.75,280.68 291.00,283.01 293.25,283.95C295.50,284.89 297.75,285.14 300.00,285.53C302.25,285.92 304.50,286.00 306.75,286.28C309.00,286.56 311.25,286.88 313.50,287.23C315.75,287.58 318.00,288.37 320.25,288.37C322.50,288.37 324.75,286.11 327.00,287.24C329.25,288.37 331.50,291.61 333.75,295.15C336.00,298.70 338.25,305.63 340.50,308.51C342.75,311.40 345.00,311.92 347.25,312.44C349.50,312.97 351.75,313.43 354.00,311.66C356.25,309.89 358.50,303.54 360.75,301.83C363.00,300.13 365.25,302.95 367.50,301.44C369.75,299.93 372.00,294.63 374.25,292.79C376.50,290.96 378.75,291.75 381.00,290.44C383.25,289.13 385.50,286.64 387.75,284.93C390.00,283.23 392.25,281.79 394.50,280.22C396.75,278.65 399.00,276.94 401.25,275.50C403.50,274.06 405.75,272.49 408.00,271.57C410.25,270.65 412.50,270.39 414.75,270.00C417.00,269.61 419.25,269.61 421.50,269.21C423.75,268.82 426.00,267.97 428.25,267.64C430.50,267.31 432.75,267.25 435.00,267.25C437.25,267.25 439.50,266.62 441.75,267.64C444.00,268.66 446.25,272.42 448.50,273.38C450.75,274.34 453.00,272.28 455.25,273.38C457.50,274.48 459.75,278.71 462.00,279.98C464.25,281.25 466.50,280.44 468.75,281.00C471.00,281.57 473.25,283.36 475.50,283.36C477.75,283.36 480.00,281.57 482.25,281.00C484.50,280.44 486.75,279.98 489.00,279.98C491.25,279.98 493.50,280.70 495.75,281.00C498.00,281.31 500.25,281.53 502.50,281.79C504.75,282.05 507.00,282.71 509.25,282.58C511.50,282.44 513.75,281.62 516.00,281.00C518.25,280.39 520.50,279.60 522.75,278.88C525.00,278.16 527.25,275.93 529.50,276.68C531.75,277.43 534.00,281.86 536.25,283.36C538.50,284.87 540.75,284.80 543.00,285.72C545.25,286.64 547.50,289.26 549.75,288.86C552.00,288.47 554.25,284.28 556.50,283.36C558.75,282.45 561.00,282.97 563.25,283.36C565.50,283.75 567.75,284.41 570.00,285.72C572.25,287.03 574.50,290.17 576.75,291.22C579.00,292.27 581.25,291.88 583.50,292.01C585.75,292.14 588.00,292.92 590.25,292.01C592.50,291.09 595.88,287.42 597.00,286.51"/>
<path d="M70.50,310.90C71.62,310.75 75.00,310.14 77.25,309.99C79.50,309.84 81.75,309.58 84.00,310.02C86.25,310.46 88.50,312.15 90.75,312.64C93.00,313.14 95.25,312.73 97.50,313.00C99.75,313.26 102.00,314.58 104.25,314.23C106.50,313.89 108.75,311.21 111.00,310.92C113.25,310.63 115.50,312.50 117.75,312.49C120.00,312.49 122.25,311.49 124.50,310.89C126.75,310.30 129.00,309.42 131.25,308.94C133.50,308.46 135.75,307.94 138.00,308.01C140.25,308.09 142.50,308.51 144.75,309.39C147.00,310.28 149.25,311.97 151.50,313.33C153.75,314.69 156.00,315.55 158.25,317.55C160.50,319.56 162.75,322.58 165.00,325.37C167.25,328.16 169.50,332.78 171.75,334.29C174.00,335.80 176.25,335.00 178.50,334.42C180.75,333.83 183.00,333.34 185.25,330.77C187.50,328.21 189.75,322.06 192.00,319.03C194.25,316.00 196.50,314.43 198.75,312.60C201.00,310.78 203.25,309.33 205.50,308.09C207.75,306.85 210.00,305.87 212.25,305.16C214.50,304.45 216.75,304.22 219.00,303.85C221.25,303.49 223.50,303.42 225.75,302.97C228.00,302.52 230.25,302.45 232.50,301.16C234.75,299.87 237.00,296.68 239.25,295.24C241.50,293.80 243.75,292.72 246.00,292.52C248.25,292.31 250.50,294.10 252.75,294.00C255.00,293.91 257.25,291.98 259.50,291.94C261.75,291.90 264.00,293.52 266.25,293.74C268.50,293.96 270.75,293.49 273.00,293.25C275.25,293.02 277.50,292.34 279.75,292.32C282.00,292.31 284.25,293.39 286.50,293.15C288.75,292.90 291.00,290.47 293.25,290.83C295.50,291.18 297.75,294.35 300.00,295.29C302.25,296.22 304.50,297.03 306.75,296.44C309.00,295.85 311.25,291.99 313.50,291.73C315.75,291.46 318.00,293.84 320.25,294.84C322.50,295.84 324.75,298.33 327.00,297.73C329.25,297.12 331.50,291.91 333.75,291.22C336.00,290.53 338.25,293.97 340.50,293.58C342.75,293.19 345.00,290.96 347.25,288.86C349.50,286.77 351.75,285.46 354.00,281.00C356.25,276.55 358.50,266.20 360.75,262.14C363.00,258.08 365.25,258.93 367.50,256.64C369.75,254.35 372.00,250.48 374.25,248.39C376.50,246.29 378.75,246.49 381.00,244.06C383.25,241.64 385.50,236.40 387.75,233.84C390.00,231.29 392.25,230.50 394.50,228.74C396.75,226.97 399.00,225.07 401.25,223.23C403.50,221.40 405.75,219.11 408.00,217.73C410.25,216.36 412.50,214.91 414.75,214.98C417.00,215.05 419.25,217.40 421.50,218.12C423.75,218.84 426.00,218.74 428.25,219.30C430.50,219.87 432.75,221.87 435.00,221.50C437.25,221.14 439.50,217.99 441.75,217.10C444.00,216.21 446.25,216.91 448.50,216.16C450.75,215.41 453.00,212.46 455.25,212.62C457.50,212.78 459.75,215.79 462.00,217.10C464.25,218.41 466.50,220.31 468.75,220.48C471.00,220.65 473.25,219.04 475.50,218.12C477.75,217.21 480.00,216.03 482.25,214.98C484.50,213.93 486.75,211.31 489.00,211.84C491.25,212.36 493.50,216.16 495.75,218.12C498.00,220.09 500.25,221.96 502.50,223.63C504.75,225.29 507.00,226.99 509.25,228.11C511.50,229.22 513.75,230.53 516.00,230.31C518.25,230.08 520.50,227.88 522.75,226.77C525.00,225.66 527.25,224.87 529.50,223.63C531.75,222.38 534.00,219.43 536.25,219.30C538.50,219.17 540.75,222.12 543.00,222.84C545.25,223.56 547.50,222.75 549.75,223.63C552.00,224.50 554.25,226.40 556.50,228.11C558.75,229.81 561.00,233.35 563.25,233.84C565.50,234.34 567.75,231.35 570.00,231.09C572.25,230.83 574.50,232.21 576.75,232.27C579.00,232.34 581.25,231.68 583.50,231.49C585.75,231.29 588.00,231.49 590.25,231.09C592.50,230.70 595.88,229.46 597.00,229.13"/>
<path d="M70.50,316.64C71.62,316.17 75.00,314.10 77.25,313.83C79.50,313.57 81.75,314.81 84.00,315.06C86.25,315.31 88.50,315.24 90.75,315.34C93.00,315.44 95.25,316.45 97.50,315.66C99.75,314.86 102.00,311.03 104.25,310.58C106.50,310.12 108.75,312.89 111.00,312.91C113.25,312.93 115.50,311.45 117.75,310.69C120.00,309.92 122.25,309.23 124.50,308.33C126.75,307.43 129.00,305.14 131.25,305.29C133.50,305.45 135.75,308.67 138.00,309.25C140.25,309.83 142.50,308.70 144.75,308.79C147.00,308.89 149.25,308.77 151.50,309.81C153.75,310.86 156.00,312.81 158.25,315.05C160.50,317.29 162.75,320.76 165.00,323.26C167.25,325.77 169.50,328.68 171.75,330.09C174.00,331.50 176.25,333.69 178.50,331.74C180.75,329.79 183.00,321.89 185.25,318.41C187.50,314.93 189.75,313.26 192.00,310.86C194.25,308.47 196.50,305.90 198.75,304.04C201.00,302.18 203.25,300.35 205.50,299.71C207.75,299.07 210.00,300.81 212.25,300.22C214.50,299.62 216.75,297.27 219.00,296.15C221.25,295.03 223.50,294.19 225.75,293.48C228.00,292.78 230.25,292.33 232.50,291.90C234.75,291.48 237.00,291.13 239.25,290.95C241.50,290.77 243.75,290.64 246.00,290.81C248.25,290.98 250.50,291.74 252.75,291.98C255.00,292.21 257.25,292.56 259.50,292.22C261.75,291.88 264.00,290.27 266.25,289.94C268.50,289.60 270.75,290.22 273.00,290.21C275.25,290.21 277.50,290.19 279.75,289.91C282.00,289.64 284.25,288.49 286.50,288.57C288.75,288.65 291.00,289.88 293.25,290.41C295.50,290.94 297.75,291.50 300.00,291.77C302.25,292.03 304.50,291.88 306.75,291.99C309.00,292.10 311.25,291.67 313.50,292.45C315.75,293.23 318.00,296.61 320.25,296.66C322.50,296.72 324.75,293.57 327.00,292.80C329.25,292.02 331.50,291.48 333.75,292.01C336.00,292.53 338.25,296.72 340.50,295.94C342.75,295.15 345.00,290.31 347.25,287.29C349.50,284.28 351.75,282.51 354.00,277.86C356.25,273.21 358.50,264.04 360.75,259.39C363.00,254.74 365.25,253.04 367.50,249.96C369.75,246.88 372.00,243.21 374.25,240.92C376.50,238.63 378.75,237.64 381.00,236.20C383.25,234.76 385.50,233.65 387.75,232.27C390.00,230.90 392.25,229.78 394.50,227.95C396.75,226.12 399.00,223.10 401.25,221.27C403.50,219.43 405.75,217.73 408.00,216.94C410.25,216.16 412.50,216.53 414.75,216.55C417.00,216.58 419.25,217.56 421.50,217.10C423.75,216.64 426.00,214.68 428.25,213.80C430.50,212.92 432.75,211.29 435.00,211.84C437.25,212.39 439.50,216.22 441.75,217.10C444.00,217.98 446.25,216.54 448.50,217.10C450.75,217.67 453.00,219.75 455.25,220.48C457.50,221.22 459.75,221.33 462.00,221.50C464.25,221.67 466.50,222.07 468.75,221.50C471.00,220.94 473.25,219.08 475.50,218.12C477.75,217.17 480.00,216.49 482.25,215.77C484.50,215.05 486.75,213.41 489.00,213.80C491.25,214.19 493.50,216.49 495.75,218.12C498.00,219.76 500.25,221.79 502.50,223.63C504.75,225.46 507.00,227.82 509.25,229.13C511.50,230.44 513.75,230.96 516.00,231.49C518.25,232.01 520.50,232.47 522.75,232.27C525.00,232.08 527.25,230.83 529.50,230.31C531.75,229.78 534.00,230.24 536.25,229.13C538.50,228.01 540.75,224.02 543.00,223.63C545.25,223.23 547.50,225.46 549.75,226.77C552.00,228.08 554.25,229.98 556.50,231.49C558.75,232.99 561.00,235.68 563.25,235.81C565.50,235.94 567.75,232.73 570.00,232.27C572.25,231.81 574.50,232.27 576.75,233.06C579.00,233.84 581.25,235.42 583.50,236.99C585.75,238.56 588.00,240.47 590.25,242.49C592.50,244.51 595.88,247.99 597.00,249.09"/>
<path d="M70.50,310.40C71.62,310.59 75.00,311.13 77.25,311.52C79.50,311.92 81.75,313.07 84.00,312.76C86.25,312.45 88.50,310.14 90.75,309.65C93.00,309.15 95.25,309.47 97.50,309.78C99.75,310.09 102.00,311.64 104.25,311.49C106.50,311.35 108.75,309.54 111.00,308.89C113.25,308.24 115.50,308.39 117.75,307.59C120.00,306.79 122.25,304.54 124.50,304.09C126.75,303.64 129.00,304.36 131.25,304.89C133.50,305.43 135.75,307.16 138.00,307.32C140.25,307.49 142.50,304.93 144.75,305.87C147.00,306.81 149.25,310.36 151.50,312.97C153.75,315.58 156.00,318.85 158.25,321.54C160.50,324.23 162.75,326.37 165.00,329.11C167.25,331.84 169.50,337.56 171.75,337.94C174.00,338.32 176.25,334.02 178.50,331.37C180.75,328.72 183.00,325.62 185.25,322.05C187.50,318.48 189.75,313.10 192.00,309.95C194.25,306.79 196.50,305.27 198.75,303.13C201.00,300.99 203.25,299.17 205.50,297.11C207.75,295.04 210.00,292.19 212.25,290.73C214.50,289.26 216.75,289.46 219.00,288.32C221.25,287.17 223.50,284.64 225.75,283.86C228.00,283.08 230.25,283.65 232.50,283.63C234.75,283.61 237.00,283.61 239.25,283.75C241.50,283.89 243.75,284.74 246.00,284.47C248.25,284.20 250.50,282.74 252.75,282.12C255.00,281.50 257.25,280.42 259.50,280.76C261.75,281.09 264.00,283.61 266.25,284.13C268.50,284.65 270.75,283.30 273.00,283.87C275.25,284.45 277.50,287.49 279.75,287.59C282.00,287.68 284.25,284.80 286.50,284.45C288.75,284.11 291.00,285.54 293.25,285.54C295.50,285.53 297.75,284.39 300.00,284.42C302.25,284.46 304.50,284.98 306.75,285.76C309.00,286.54 311.25,288.51 313.50,289.11C315.75,289.70 318.00,289.43 320.25,289.34C322.50,289.24 324.75,288.38 327.00,288.56C329.25,288.75 331.50,289.99 333.75,290.44C336.00,290.88 338.25,292.01 340.50,291.22C342.75,290.44 345.00,289.52 347.25,285.72C349.50,281.92 351.75,274.98 354.00,268.43C356.25,261.88 358.50,251.92 360.75,246.42C363.00,240.92 365.25,239.35 367.50,235.42C369.75,231.49 372.00,225.92 374.25,222.84C376.50,219.76 378.75,219.83 381.00,216.94C383.25,214.06 385.50,208.95 387.75,205.55C390.00,202.14 392.25,200.18 394.50,196.51C396.75,192.84 399.00,186.88 401.25,183.54C403.50,180.20 405.75,177.91 408.00,176.47C410.25,175.02 412.50,175.22 414.75,174.89C417.00,174.57 419.25,174.63 421.50,174.50C423.75,174.37 426.00,174.00 428.25,174.11C430.50,174.21 432.75,173.95 435.00,175.13C437.25,176.31 439.50,178.80 441.75,181.18C444.00,183.57 446.25,187.47 448.50,189.44C450.75,191.40 453.00,192.64 455.25,192.97C457.50,193.30 459.75,191.79 462.00,191.40C464.25,191.01 466.50,190.88 468.75,190.61C471.00,190.35 473.25,189.11 475.50,189.83C477.75,190.55 480.00,193.37 482.25,194.94C484.50,196.51 486.75,198.15 489.00,199.26C491.25,200.37 493.50,200.70 495.75,201.62C498.00,202.53 500.25,203.32 502.50,204.76C504.75,206.20 507.00,208.76 509.25,210.26C511.50,211.77 513.75,213.01 516.00,213.80C518.25,214.59 520.50,214.65 522.75,214.98C525.00,215.31 527.25,215.24 529.50,215.77C531.75,216.29 534.00,217.53 536.25,218.12C538.50,218.71 540.75,218.74 543.00,219.30C545.25,219.87 547.50,220.91 549.75,221.50C552.00,222.09 554.25,222.29 556.50,222.84C558.75,223.39 561.00,224.15 563.25,224.81C565.50,225.46 567.75,226.18 570.00,226.77C572.25,227.36 574.50,227.75 576.75,228.34C579.00,228.93 581.25,229.39 583.50,230.31C585.75,231.22 588.00,232.93 590.25,233.84C592.50,234.76 595.88,235.48 597.00,235.81"/>
<path d="M70.50,309.48C71.62,309.77 75.00,311.26 77.25,311.22C79.50,311.18 81.75,309.18 84.00,309.26C86.25,309.33 88.50,311.81 90.75,311.65C93.00,311.50 95.25,308.85 97.50,308.32C99.75,307.79 102.00,308.29 104.25,308.47C106.50,308.64 108.75,309.90 111.00,309.37C113.25,308.85 115.50,305.83 117.75,305.33C120.00,304.82 122.25,306.47 124.50,306.34C126.75,306.21 129.00,304.45 131.25,304.56C133.50,304.66 135.75,306.18 138.00,306.95C140.25,307.72 142.50,308.73 144.75,309.19C147.00,309.65 149.25,308.43 151.50,309.72C153.75,311.01 156.00,313.64 158.25,316.93C160.50,320.22 162.75,326.54 165.00,329.45C167.25,332.36 169.50,334.73 171.75,334.40C174.00,334.07 176.25,330.75 178.50,327.46C180.75,324.18 183.00,317.93 185.25,314.70C187.50,311.47 189.75,309.94 192.00,308.09C194.25,306.24 196.50,306.17 198.75,303.58C201.00,300.99 203.25,294.31 205.50,292.53C207.75,290.76 210.00,294.53 212.25,292.93C214.50,291.34 216.75,284.49 219.00,282.96C221.25,281.43 223.50,283.60 225.75,283.73C228.00,283.86 230.25,283.78 232.50,283.75C234.75,283.71 237.00,283.81 239.25,283.54C241.50,283.27 243.75,282.87 246.00,282.14C248.25,281.40 250.50,279.16 252.75,279.11C255.00,279.05 257.25,281.60 259.50,281.82C261.75,282.03 264.00,280.56 266.25,280.40C268.50,280.24 270.75,280.48 273.00,280.87C275.25,281.26 277.50,282.51 279.75,282.73C282.00,282.94 284.25,281.68 286.50,282.16C288.75,282.64 291.00,284.90 293.25,285.61C295.50,286.32 297.75,286.35 300.00,286.41C302.25,286.48 304.50,286.44 306.75,286.00C309.00,285.56 311.25,283.73 313.50,283.78C315.75,283.84 318.00,285.63 320.25,286.35C322.50,287.08 324.75,287.74 327.00,288.16C329.25,288.58 331.50,289.14 333.75,288.86C336.00,288.59 338.25,288.08 340.50,286.51C342.75,284.93 345.00,284.02 347.25,279.43C349.50,274.85 351.75,266.07 354.00,259.00C356.25,251.92 358.50,243.01 360.75,236.99C363.00,230.96 365.25,227.82 367.50,222.84C369.75,217.86 372.00,211.57 374.25,207.12C376.50,202.67 378.75,199.78 381.00,196.12C383.25,192.45 385.50,188.13 387.75,185.11C390.00,182.10 392.25,180.92 394.50,178.04C396.75,175.16 399.00,170.31 401.25,167.82C403.50,165.33 405.75,164.15 408.00,163.10C410.25,162.06 412.50,161.53 414.75,161.53C417.00,161.53 419.25,163.63 421.50,163.10C423.75,162.58 426.00,158.91 428.25,158.39C430.50,157.86 432.75,159.17 435.00,159.96C437.25,160.75 439.50,161.14 441.75,163.10C444.00,165.07 446.25,169.65 448.50,171.75C450.75,173.85 453.00,174.24 455.25,175.68C457.50,177.12 459.75,178.69 462.00,180.40C464.25,182.10 466.50,184.33 468.75,185.90C471.00,187.47 473.25,188.78 475.50,189.83C477.75,190.88 480.00,192.91 482.25,192.19C484.50,191.47 486.75,186.95 489.00,185.50C491.25,184.06 493.50,183.21 495.75,183.54C498.00,183.87 500.25,185.90 502.50,187.47C504.75,189.04 507.00,191.14 509.25,192.97C511.50,194.81 513.75,197.43 516.00,198.47C518.25,199.52 520.50,199.13 522.75,199.26C525.00,199.39 527.25,198.74 529.50,199.26C531.75,199.78 534.00,202.14 536.25,202.40C538.50,202.67 540.75,201.23 543.00,200.83C545.25,200.44 547.50,200.44 549.75,200.05C552.00,199.65 554.25,197.69 556.50,198.47C558.75,199.26 561.00,203.45 563.25,204.76C565.50,206.07 567.75,205.16 570.00,206.33C572.25,207.51 574.50,211.31 576.75,211.84C579.00,212.36 581.25,208.82 583.50,209.48C585.75,210.13 588.00,213.93 590.25,215.77C592.50,217.60 595.88,219.70 597.00,220.48"/>
</g>
<g fill="#000" stroke="#000" stroke-width="0.7">
<path d="M70.50,303.40L73.95,309.85L67.05,309.85Z" fill="#fff" stroke="#000" stroke-width="1.5"/>
<path d="M77.25,307.42L80.70,313.87L73.80,313.87Z" fill="#fff" stroke="#000" stroke-width="1.5"/>
<path d="M84.00,305.85L87.45,312.30L80.55,312.30Z" fill="#fff" stroke="#000" stroke-width="1.5"/>
<path d="M90.75,302.58L94.20,309.03L87.30,309.03Z" fill="#fff" stroke="#000" stroke-width="1.5"/>
<path d="M97.50,302.43L100.95,308.88L94.05,308.88Z" fill="#fff" stroke="#000" stroke-width="1.5"/>
<path d="M104.25,302.56L107.70,309.01L100.80,309.01Z" fill="#fff" stroke="#000" stroke-width="1.5"/>
<path d="M111.00,304.17L114.45,310.62L107.55,310.62Z" fill="#fff" stroke="#000" stroke-width="1.5"/>
<path d="M117.75,302.02L121.20,308.47L114.30,308.47Z" fill="#fff" stroke="#000" stroke-width="1.5"/>
<path d="M124.50,301.54L127.95,307.99L121.05,307.99Z" fill="#fff" stroke="#000" stroke-width="1.5"/>
<path d="M131.25,299.00L134.70,305.45L127.80,305.45Z" fill="#fff" stroke="#000" stroke-width="1.5"/>
<path d="M138.00,301.10L141.45,307.55L134.55,307.55Z" fill="#fff" stroke="#000" stroke-width="1.5"/>
<path d="M144.75,302.50L148.20,308.95L141.30,308.95Z" fill="#fff" stroke="#000" stroke-width="1.5"/>
<path d="M151.50,307.72L154.95,314.17L148.05,314.17Z" fill="#fff" stroke="#000" stroke-width="1.5"/>
<path d="M158.25,318.53L161.70,324.98L154.80,324.98Z" fill="#fff" stroke="#000" stroke-width="1.5"/>
<path d="M165.00,323.94L168.45,330.39L161.55,330.39Z" fill="#fff" stroke="#000" stroke-width="1.5"/>
<path d="M171.75,327.70L175.20,334.15L168.30,334.15Z" fill="#fff" stroke="#000" stroke-width="1.5"/>
<path d="M178.50,325.28L181.95,331.73L175.05,331.73Z" fill="#fff" stroke="#000" stroke-width="1.5"/>
<path d="M185.25,314.53L188.70,320.98L181.80,320.98Z" fill="#fff" stroke="#000" stroke-width="1.5"/>
<path d="M192.00,305.03L195.45,311.48L188.55,311.48Z" fill="#fff" stroke="#000" stroke-width="1.5"/>
<path d="M198.75,299.18L202.20,305.63L195.30,305.63Z" fill="#fff" stroke="#000" stroke-width="1.5"/>
<path d="M205.50,294.93L208.95,301.38L202.05,301.38Z" fill="#fff" stroke="#000" stroke-width="1.5"/>
<path d="M212.25,287.82L215.70,294.27L208.80,294.27Z" fill="#fff" stroke="#000" stroke-width="1.5"/>
<path d="M219.00,283.21L222.45,289.66L215.55,289.66Z" fill="#fff" stroke="#000" stroke-width="1.5"/>
<path d="M225.75,281.87L229.20,288.32L222.30,288.32Z" fill="#fff" stroke="#000" stroke-width="1.5"/>
<path d="M232.50,281.09L235.95,287.54L229.05,287.54Z" fill="#fff" stroke="#000" stroke-width="1.5"/>
<path d="M239.25,279.35L242.70,285.80L235.80,285.80Z" fill="#fff" stroke="#000" stroke-width="1.5"/>
<path d="M246.00,279.11L249.45,285.56L242.55,285.56Z" fill="#fff" stroke="#000" stroke-width="1.5"/>
<path d="M252.75,276.88L256.20,283.33L249.30,283.33Z" fill="#fff" stroke="#000" stroke-width="1.5"/>
<path d="M259.50,275.04L262.95,281.49L256.05,281.49Z" fill="#fff" stroke="#000" stroke-width="1.5"/>
<path d="M266.25,278.23L269.70,284.68L262.80,284.68Z" fill="#fff" stroke="#000" stroke-width="1.5"/>
<path d="M273.00,275.93L276.45,282.38L269.55,282.38Z" fill="#fff" stroke="#000" stroke-width="1.5"/>
<path d="M279.75,276.04L283.20,282.49L276.30,282.49Z" fill="#fff" stroke="#000" stroke-width="1.5"/>
<path d="M286.50,276.62L289.95,283.07L283.05,283.07Z" fill="#fff" stroke="#000" stroke-width="1.5"/>
<path d="M293.25,280.65L296.70,287.10L289.80,287.10Z" fill="#fff" stroke="#000" stroke-width="1.5"/>
<path d="M300.00,282.23L303.45,288.68L296.55,288.68Z" fill="#fff" stroke="#000" stroke-width="1.5"/>
<path d="M306.75,282.98L310.20,289.43L303.30,289.43Z" fill="#fff" stroke="#000" stroke-width="1.5"/>
<path d="M313.50,283.93L316.95,290.38L310.05,290.38Z" fill="#fff" stroke="#000" stroke-width="1.5"/>
<path d="M320.25,285.07L323.70,291.52L316.80,291.52Z" fill="#fff" stroke="#000" stroke-width="1.5"/>
<path d="M327.00,283.94L330.45,290.39L323.55,290.39Z" fill="#fff" stroke="#000" stroke-width="1.5"/>
<path d="M333.75,291.85L337.20,298.30L330.30,298.30Z" fill="#fff" stroke="#000" stroke-width="1.5"/>
<path d="M340.50,305.21L343.95,311.66L337.05,311.66Z" fill="#fff" stroke="#000" stroke-width="1.5"/>
<path d="M347.25,309.14L350.70,315.59L343.80,315.59Z" fill="#fff" stroke="#000" stroke-width="1.5"/>
<path d="M354.00,308.36L357.45,314.81L350.55,314.81Z" fill="#fff" stroke="#000" stroke-width="1.5"/>
<path d="M360.75,298.53L364.20,304.98L357.30,304.98Z" fill="#fff" stroke="#000" stroke-width="1.5"/>
<path d="M367.50,298.14L370.95,304.59L364.05,304.59Z" fill="#fff" stroke="#000" stroke-width="1.5"/>
<path d="M374.25,289.49L377.70,295.94L370.80,295.94Z" fill="#fff" stroke="#000" stroke-width="1.5"/>
<path d="M381.00,287.14L384.45,293.59L377.55,293.59Z" fill="#fff" stroke="#000" stroke-width="1.5"/>
<path d="M387.75,281.63L391.20,288.08L384.30,288.08Z" fill="#fff" stroke="#000" stroke-width="1.5"/>
<path d="M394.50,276.92L397.95,283.37L391.05,283.37Z" fill="#fff" stroke="#000" stroke-width="1.5"/>
<path d="M401.25,272.20L404.70,278.65L397.80,278.65Z" fill="#fff" stroke="#000" stroke-width="1.5"/>
<path d="M408.00,268.27L411.45,274.72L404.55,274.72Z" fill="#fff" stroke="#000" stroke-width="1.5"/>
<path d="M414.75,266.70L418.20,273.15L411.30,273.15Z" fill="#fff" stroke="#000" stroke-width="1.5"/>
<path d="M421.50,265.91L424.95,272.36L418.05,272.36Z" fill="#fff" stroke="#000" stroke-width="1.5"/>
<path d="M428.25,264.34L431.70,270.79L424.80,270.79Z" fill="#fff" stroke="#000" stroke-width="1.5"/>
<path d="M435.00,263.95L438.45,270.40L431.55,270.40Z" fill="#fff" stroke="#000" stroke-width="1.5"/>
<path d="M441.75,264.34L445.20,270.79L438.30,270.79Z" fill="#fff" stroke="#000" stroke-width="1.5"/>
<path d="M448.50,270.08L451.95,276.53L445.05,276.53Z" fill="#fff" stroke="#000" stroke-width="1.5"/>
<path d="M455.25,270.08L458.70,276.53L451.80,276.53Z" fill="#fff" stroke="#000" stroke-width="1.5"/>
<path d="M462.00,276.68L465.45,283.13L458.55,283.13Z" fill="#fff" stroke="#000" stroke-width="1.5"/>
<path d="M468.75,277.70L472.20,284.15L465.30,284.15Z" fill="#fff" stroke="#000" stroke-width="1.5"/>
<path d="M475.50,280.06L478.95,286.51L472.05,286.51Z" fill="#fff" stroke="#000" stroke-width="1.5"/>
<path d="M482.25,277.70L485.70,284.15L478.80,284.15Z" fill="#fff" stroke="#000" stroke-width="1.5"/>
<path d="M489.00,276.68L492.45,283.13L485.55,283.13Z" fill="#fff" stroke="#000" stroke-width="1.5"/>
<path d="M495.75,277.70L499.20,284.15L492.30,284.15Z" fill="#fff" stroke="#000" stroke-width="1.5"/>
<path d="M502.50,278.49L505.95,284.94L499.05,284.94Z" fill="#fff" stroke="#000" stroke-width="1.5"/>
<path d="M509.25,279.28L512.70,285.73L505.80,285.73Z" fill="#fff" stroke="#000" stroke-width="1.5"/>
<path d="M516.00,277.70L519.45,284.15L512.55,284.15Z" fill="#fff" stroke="#000" stroke-width="1.5"/>
<path d="M522.75,275.58L526.20,282.03L519.30,282.03Z" fill="#fff" stroke="#000" stroke-width="1.5"/>
<path d="M529.50,273.38L532.95,279.83L526.05,279.83Z" fill="#fff" stroke="#000" stroke-width="1.5"/>
<path d="M536.25,280.06L539.70,286.51L532.80,286.51Z" fill="#fff" stroke="#000" stroke-width="1.5"/>
<path d="M543.00,282.42L546.45,288.87L539.55,288.87Z" fill="#fff" stroke="#000" stroke-width="1.5"/>
<path d="M549.75,285.56L553.20,292.01L546.30,292.01Z" fill="#fff" stroke="#000" stroke-width="1.5"/>
<path d="M556.50,280.06L559.95,286.51L553.05,286.51Z" fill="#fff" stroke="#000" stroke-width="1.5"/>
<path d="M563.25,280.06L566.70,286.51L559.80,286.51Z" fill="#fff" stroke="#000" stroke-width="1.5"/>
<path d="M570.00,282.42L573.45,288.87L566.55,288.87Z" fill="#fff" stroke="#000" stroke-width="1.5"/>
<path d="M576.75,287.92L580.20,294.37L573.30,294.37Z" fill="#fff" stroke="#000" stroke-width="1.5"/>
<path d="M583.50,288.71L586.95,295.16L580.05,295.16Z" fill="#fff" stroke="#000" stroke-width="1.5"/>
<path d="M590.25,288.71L593.70,295.16L586.80,295.16Z" fill="#fff" stroke="#000" stroke-width="1.5"/>
<path d="M597.00,283.21L600.45,289.66L593.55,289.66Z" fill="#fff" stroke="#000" stroke-width="1.5"/>
<circle cx="70.50" cy="310.90" r="3.24"/>
<circle cx="77.25" cy="309.99" r="3.24"/>
<circle cx="84.00" cy="310.02" r="3.24"/>
<circle cx="90.75" cy="312.64" r="3.24"/>
<circle cx="97.50" cy="313.00" r="3.24"/>
<circle cx="104.25" cy="314.23" r="3.24"/>
<circle cx="111.00" cy="310.92" r="3.24"/>
<circle cx="117.75" cy="312.49" r="3.24"/>
<circle cx="124.50" cy="310.89" r="3.24"/>
<circle cx="131.25" cy="308.94" r="3.24"/>
<circle cx="138.00" cy="308.01" r="3.24"/>
<circle cx="144.75" cy="309.39" r="3.24"/>
<circle cx="151.50" cy="313.33" r="3.24"/>
<circle cx="158.25" cy="317.55" r="3.24"/>
<circle cx="165.00" cy="325.37" r="3.24"/>
<circle cx="171.75" cy="334.29" r="3.24"/>
<circle cx="178.50" cy="334.42" r="3.24"/>
<circle cx="185.25" cy="330.77" r="3.24"/>
<circle cx="192.00" cy="319.03" r="3.24"/>
<circle cx="198.75" cy="312.60" r="3.24"/>
<circle cx="205.50" cy="308.09" r="3.24"/>
<circle cx="212.25" cy="305.16" r="3.24"/>
<circle cx="219.00" cy="303.85" r="3.24"/>
<circle cx="225.75" cy="302.97" r="3.24"/>
<circle cx="232.50" cy="301.16" r="3.24"/>
<circle cx="239.25" cy="295.24" r="3.24"/>
<circle cx="246.00" cy="292.52" r="3.24"/>
<circle cx="252.75" cy="294.00" r="3.24"/>
<circle cx="259.50" cy="291.94" r="3.24"/>
<circle cx="266.25" cy="293.74" r="3.24"/>
<circle cx="273.00" cy="293.25" r="3.24"/>
<circle cx="279.75" cy="292.32" r="3.24"/>
<circle cx="286.50" cy="293.15" r="3.24"/>
<circle cx="293.25" cy="290.83" r="3.24"/>
<circle cx="300.00" cy="295.29" r="3.24"/>
<circle cx="306.75" cy="296.44" r="3.24"/>
<circle cx="313.50" cy="291.73" r="3.24"/>
<circle cx="320.25" cy="294.84" r="3.24"/>
<circle cx="327.00" cy="297.73" r="3.24"/>
<circle cx="333.75" cy="291.22" r="3.24"/>
<circle cx="340.50" cy="293.58" r="3.24"/>
<circle cx="347.25" cy="288.86" r="3.24"/>
<circle cx="354.00" cy="281.00" r="3.24"/>
<circle cx="360.75" cy="262.14" r="3.24"/>
<circle cx="367.50" cy="256.64" r="3.24"/>
<circle cx="374.25" cy="248.39" r="3.24"/>
<circle cx="381.00" cy="244.06" r="3.24"/>
<circle cx="387.75" cy="233.84" r="3.24"/>
<circle cx="394.50" cy="228.74" r="3.24"/>
<circle cx="401.25" cy="223.23" r="3.24"/>
<circle cx="408.00" cy="217.73" r="3.24"/>
<circle cx="414.75" cy="214.98" r="3.24"/>
<circle cx="421.50" cy="218.12" r="3.24"/>
<circle cx="428.25" cy="219.30" r="3.24"/>
<circle cx="435.00" cy="221.50" r="3.24"/>
<circle cx="441.75" cy="217.10" r="3.24"/>
<circle cx="448.50" cy="216.16" r="3.24"/>
<circle cx="455.25" cy="212.62" r="3.24"/>
<circle cx="462.00" cy="217.10" r="3.24"/>
<circle cx="468.75" cy="220.48" r="3.24"/>
<circle cx="475.50" cy="218.12" r="3.24"/>
<circle cx="482.25" cy="214.98" r="3.24"/>
<circle cx="489.00" cy="211.84" r="3.24"/>
<circle cx="495.75" cy="218.12" r="3.24"/>
<circle cx="502.50" cy="223.63" r="3.24"/>
<circle cx="509.25" cy="228.11" r="3.24"/>
<circle cx="516.00" cy="230.31" r="3.24"/>
<circle cx="522.75" cy="226.77" r="3.24"/>
<circle cx="529.50" cy="223.63" r="3.24"/>
<circle cx="536.25" cy="219.30" r="3.24"/>
<circle cx="543.00" cy="222.84" r="3.24"/>
<circle cx="549.75" cy="223.63" r="3.24"/>
<circle cx="556.50" cy="228.11" r="3.24"/>
<circle cx="563.25" cy="233.84" r="3.24"/>
<circle cx="570.00" cy="231.09" r="3.24"/>
<circle cx="576.75" cy="232.27" r="3.24"/>
<circle cx="583.50" cy="231.49" r="3.24"/>
<circle cx="590.25" cy="231.09" r="3.24"/>
<circle cx="597.00" cy="229.13" r="3.24"/>
<rect x="67.56" y="313.70" width="5.88" height="5.88"/>
<rect x="74.31" y="310.89" width="5.88" height="5.88"/>
<rect x="81.06" y="312.12" width="5.88" height="5.88"/>
<rect x="87.81" y="312.40" width="5.88" height="5.88"/>
<rect x="94.56" y="312.72" width="5.88" height="5.88"/>
<rect x="101.31" y="307.64" width="5.88" height="5.88"/>
<rect x="108.06" y="309.97" width="5.88" height="5.88"/>
<rect x="114.81" y="307.75" width="5.88" height="5.88"/>
<rect x="121.56" y="305.39" width="5.88" height="5.88"/>
<rect x="128.31" y="302.35" width="5.88" height="5.88"/>
<rect x="135.06" y="306.31" width="5.88" height="5.88"/>
<rect x="141.81" y="305.85" width="5.88" height="5.88"/>
<rect x="148.56" y="306.87" width="5.88" height="5.88"/>
<rect x="155.31" y="312.11" width="5.88" height="5.88"/>
<rect x="162.06" y="320.32" width="5.88" height="5.88"/>
<rect x="168.81" y="327.15" width="5.88" height="5.88"/>
<rect x="175.56" y="328.80" width="5.88" height="5.88"/>
<rect x="182.31" y="315.47" width="5.88" height="5.88"/>
<rect x="189.06" y="307.92" width="5.88" height="5.88"/>
<rect x="195.81" y="301.10" width="5.88" height="5.88"/>
<rect x="202.56" y="296.77" width="5.88" height="5.88"/>
<rect x="209.31" y="297.28" width="5.88" height="5.88"/>
<rect x="216.06" y="293.21" width="5.88" height="5.88"/>
<rect x="222.81" y="290.54" width="5.88" height="5.88"/>
<rect x="229.56" y="288.96" width="5.88" height="5.88"/>
<rect x="236.31" y="288.01" width="5.88" height="5.88"/>
<rect x="243.06" y="287.87" width="5.88" height="5.88"/>
<rect x="249.81" y="289.04" width="5.88" height="5.88"/>
<rect x="256.56" y="289.28" width="5.88" height="5.88"/>
<rect x="263.31" y="287.00" width="5.88" height="5.88"/>
<rect x="270.06" y="287.27" width="5.88" height="5.88"/>
<rect x="276.81" y="286.97" width="5.88" height="5.88"/>
<rect x="283.56" y="285.63" width="5.88" height="5.88"/>
<rect x="290.31" y="287.47" width="5.88" height="5.88"/>
<rect x="297.06" y="288.83" width="5.88" height="5.88"/>
<rect x="303.81" y="289.05" width="5.88" height="5.88"/>
<rect x="310.56" y="289.51" width="5.88" height="5.88"/>
<rect x="317.31" y="293.72" width="5.88" height="5.88"/>
<rect x="324.06" y="289.86" width="5.88" height="5.88"/>
<rect x="330.81" y="289.07" width="5.88" height="5.88"/>
<rect x="337.56" y="293.00" width="5.88" height="5.88"/>
<rect x="344.31" y="284.35" width="5.88" height="5.88"/>
<rect x="351.06" y="274.92" width="5.88" height="5.88"/>
<rect x="357.81" y="256.45" width="5.88" height="5.88"/>
<rect x="364.56" y="247.02" width="5.88" height="5.88"/>
<rect x="371.31" y="237.98" width="5.88" height="5.88"/>
<rect x="378.06" y="233.26" width="5.88" height="5.88"/>
<rect x="384.81" y="229.33" width="5.88" height="5.88"/>
<rect x="391.56" y="225.01" width="5.88" height="5.88"/>
<rect x="398.31" y="218.33" width="5.88" height="5.88"/>
<rect x="405.06" y="214.00" width="5.88" height="5.88"/>
<rect x="411.81" y="213.61" width="5.88" height="5.88"/>
<rect x="418.56" y="214.16" width="5.88" height="5.88"/>
<rect x="425.31" y="210.86" width="5.88" height="5.88"/>
<rect x="432.06" y="208.90" width="5.88" height="5.88"/>
<rect x="438.81" y="214.16" width="5.88" height="5.88"/>
<rect x="445.56" y="214.16" width="5.88" height="5.88"/>
<rect x="452.31" y="217.54" width="5.88" height="5.88"/>
<rect x="459.06" y="218.56" width="5.88" height="5.88"/>
<rect x="465.81" y="218.56" width="5.88" height="5.88"/>
<rect x="472.56" y="215.18" width="5.88" height="5.88"/>
<rect x="479.31" y="212.83" width="5.88" height="5.88"/>
<rect x="486.06" y="210.86" width="5.88" height="5.88"/>
<rect x="492.81" y="215.18" width="5.88" height="5.88"/>
<rect x="499.56" y="220.69" width="5.88" height="5.88"/>
<rect x="506.31" y="226.19" width="5.88" height="5.88"/>
<rect x="513.06" y="228.55" width="5.88" height="5.88"/>
<rect x="519.81" y="229.33" width="5.88" height="5.88"/>
<rect x="526.56" y="227.37" width="5.88" height="5.88"/>
<rect x="533.31" y="226.19" width="5.88" height="5.88"/>
<rect x="540.06" y="220.69" width="5.88" height="5.88"/>
<rect x="546.81" y="223.83" width="5.88" height="5.88"/>
<rect x="553.56" y="228.55" width="5.88" height="5.88"/>
<rect x="560.31" y="232.87" width="5.88" height="5.88"/>
<rect x="567.06" y="229.33" width="5.88" height="5.88"/>
<rect x="573.81" y="230.12" width="5.88" height="5.88"/>
<rect x="580.56" y="234.05" width="5.88" height="5.88"/>
<rect x="587.31" y="239.55" width="5.88" height="5.88"/>
<rect x="594.06" y="246.15" width="5.88" height="5.88"/>
<path d="M70.50,307.40L73.80,312.95L67.20,312.95Z"/>
<path d="M77.25,308.52L80.55,314.07L73.95,314.07Z"/>
<path d="M84.00,309.76L87.30,315.31L80.70,315.31Z"/>
<path d="M90.75,306.65L94.05,312.20L87.45,312.20Z"/>
<path d="M97.50,306.78L100.80,312.33L94.20,312.33Z"/>
<path d="M104.25,308.49L107.55,314.04L100.95,314.04Z"/>
<path d="M111.00,305.89L114.30,311.44L107.70,311.44Z"/>
<path d="M117.75,304.59L121.05,310.14L114.45,310.14Z"/>
<path d="M124.50,301.09L127.80,306.64L121.20,306.64Z"/>
<path d="M131.25,301.89L134.55,307.44L127.95,307.44Z"/>
<path d="M138.00,304.32L141.30,309.87L134.70,309.87Z"/>
<path d="M144.75,302.87L148.05,308.42L141.45,308.42Z"/>
<path d="M151.50,309.97L154.80,315.52L148.20,315.52Z"/>
<path d="M158.25,318.54L161.55,324.09L154.95,324.09Z"/>
<path d="M165.00,326.11L168.30,331.66L161.70,331.66Z"/>
<path d="M171.75,334.94L175.05,340.49L168.45,340.49Z"/>
<path d="M178.50,328.37L181.80,333.92L175.20,333.92Z"/>
<path d="M185.25,319.05L188.55,324.60L181.95,324.60Z"/>
<path d="M192.00,306.95L195.30,312.50L188.70,312.50Z"/>
<path d="M198.75,300.13L202.05,305.68L195.45,305.68Z"/>
<path d="M205.50,294.11L208.80,299.66L202.20,299.66Z"/>
<path d="M212.25,287.73L215.55,293.28L208.95,293.28Z"/>
<path d="M219.00,285.32L222.30,290.87L215.70,290.87Z"/>
<path d="M225.75,280.86L229.05,286.41L222.45,286.41Z"/>
<path d="M232.50,280.63L235.80,286.18L229.20,286.18Z"/>
<path d="M239.25,280.75L242.55,286.30L235.95,286.30Z"/>
<path d="M246.00,281.47L249.30,287.02L242.70,287.02Z"/>
<path d="M252.75,279.12L256.05,284.67L249.45,284.67Z"/>
<path d="M259.50,277.76L262.80,283.31L256.20,283.31Z"/>
<path d="M266.25,281.13L269.55,286.68L262.95,286.68Z"/>
<path d="M273.00,280.87L276.30,286.42L269.70,286.42Z"/>
<path d="M279.75,284.59L283.05,290.14L276.45,290.14Z"/>
<path d="M286.50,281.45L289.80,287.00L283.20,287.00Z"/>
<path d="M293.25,282.54L296.55,288.09L289.95,288.09Z"/>
<path d="M300.00,281.42L303.30,286.97L296.70,286.97Z"/>
<path d="M306.75,282.76L310.05,288.31L303.45,288.31Z"/>
<path d="M313.50,286.11L316.80,291.66L310.20,291.66Z"/>
<path d="M320.25,286.34L323.55,291.89L316.95,291.89Z"/>
<path d="M327.00,285.56L330.30,291.11L323.70,291.11Z"/>
<path d="M333.75,287.44L337.05,292.99L330.45,292.99Z"/>
<path d="M340.50,288.22L343.80,293.77L337.20,293.77Z"/>
<path d="M347.25,282.72L350.55,288.27L343.95,288.27Z"/>
<path d="M354.00,265.43L357.30,270.98L350.70,270.98Z"/>
<path d="M360.75,243.42L364.05,248.97L357.45,248.97Z"/>
<path d="M367.50,232.42L370.80,237.97L364.20,237.97Z"/>
<path d="M374.25,219.84L377.55,225.39L370.95,225.39Z"/>
<path d="M381.00,213.94L384.30,219.50L377.70,219.50Z"/>
<path d="M387.75,202.55L391.05,208.10L384.45,208.10Z"/>
<path d="M394.50,193.51L397.80,199.06L391.20,199.06Z"/>
<path d="M401.25,180.54L404.55,186.09L397.95,186.09Z"/>
<path d="M408.00,173.47L411.30,179.02L404.70,179.02Z"/>
<path d="M414.75,171.89L418.05,177.44L411.45,177.44Z"/>
<path d="M421.50,171.50L424.80,177.05L418.20,177.05Z"/>
<path d="M428.25,171.11L431.55,176.66L424.95,176.66Z"/>
<path d="M435.00,172.13L438.30,177.68L431.70,177.68Z"/>
<path d="M441.75,178.18L445.05,183.73L438.45,183.73Z"/>
<path d="M448.50,186.44L451.80,191.99L445.20,191.99Z"/>
<path d="M455.25,189.97L458.55,195.52L451.95,195.52Z"/>
<path d="M462.00,188.40L465.30,193.95L458.70,193.95Z"/>
<path d="M468.75,187.61L472.05,193.16L465.45,193.16Z"/>
<path d="M475.50,186.83L478.80,192.38L472.20,192.38Z"/>
<path d="M482.25,191.94L485.55,197.49L478.95,197.49Z"/>
<path d="M489.00,196.26L492.30,201.81L485.70,201.81Z"/>
<path d="M495.75,198.62L499.05,204.17L492.45,204.17Z"/>
<path d="M502.50,201.76L505.80,207.31L499.20,207.31Z"/>
<path d="M509.25,207.26L512.55,212.81L505.95,212.81Z"/>
<path d="M516.00,210.80L519.30,216.35L512.70,216.35Z"/>
<path d="M522.75,211.98L526.05,217.53L519.45,217.53Z"/>
<path d="M529.50,212.77L532.80,218.32L526.20,218.32Z"/>
<path d="M536.25,215.12L539.55,220.67L532.95,220.67Z"/>
<path d="M543.00,216.30L546.30,221.85L539.70,221.85Z"/>
<path d="M549.75,218.50L553.05,224.05L546.45,224.05Z"/>
<path d="M556.50,219.84L559.80,225.39L553.20,225.39Z"/>
<path d="M563.25,221.81L566.55,227.36L559.95,227.36Z"/>
<path d="M570.00,223.77L573.30,229.32L566.70,229.32Z"/>
<path d="M576.75,225.34L580.05,230.89L573.45,230.89Z"/>
<path d="M583.50,227.31L586.80,232.86L580.20,232.86Z"/>
<path d="M590.25,230.84L593.55,236.39L586.95,236.39Z"/>
<path d="M597.00,232.81L600.30,238.36L593.70,238.36Z"/>
<path d="M70.50,312.48L73.80,306.93L67.20,306.93Z"/>
<path d="M77.25,314.22L80.55,308.67L73.95,308.67Z"/>
<path d="M84.00,312.26L87.30,306.71L80.70,306.71Z"/>
<path d="M90.75,314.65L94.05,309.10L87.45,309.10Z"/>
<path d="M97.50,311.32L100.80,305.77L94.20,305.77Z"/>
<path d="M104.25,311.47L107.55,305.92L100.95,305.92Z"/>
<path d="M111.00,312.37L114.30,306.82L107.70,306.82Z"/>
<path d="M117.75,308.33L121.05,302.78L114.45,302.78Z"/>
<path d="M124.50,309.34L127.80,303.79L121.20,303.79Z"/>
<path d="M131.25,307.56L134.55,302.01L127.95,302.01Z"/>
<path d="M138.00,309.95L141.30,304.40L134.70,304.40Z"/>
<path d="M144.75,312.19L148.05,306.64L141.45,306.64Z"/>
<path d="M151.50,312.72L154.80,307.17L148.20,307.17Z"/>
<path d="M158.25,319.93L161.55,314.38L154.95,314.38Z"/>
<path d="M165.00,332.45L168.30,326.90L161.70,326.90Z"/>
<path d="M171.75,337.40L175.05,331.85L168.45,331.85Z"/>
<path d="M178.50,330.46L181.80,324.91L175.20,324.91Z"/>
<path d="M185.25,317.70L188.55,312.15L181.95,312.15Z"/>
<path d="M192.00,311.09L195.30,305.54L188.70,305.54Z"/>
<path d="M198.75,306.58L202.05,301.03L195.45,301.03Z"/>
<path d="M205.50,295.53L208.80,289.98L202.20,289.98Z"/>
<path d="M212.25,295.93L215.55,290.38L208.95,290.38Z"/>
<path d="M219.00,285.96L222.30,280.41L215.70,280.41Z"/>
<path d="M225.75,286.73L229.05,281.18L222.45,281.18Z"/>
<path d="M232.50,286.75L235.80,281.20L229.20,281.20Z"/>
<path d="M239.25,286.54L242.55,280.99L235.95,280.99Z"/>
<path d="M246.00,285.14L249.30,279.59L242.70,279.59Z"/>
<path d="M252.75,282.11L256.05,276.56L249.45,276.56Z"/>
<path d="M259.50,284.82L262.80,279.27L256.20,279.27Z"/>
<path d="M266.25,283.40L269.55,277.85L262.95,277.85Z"/>
<path d="M273.00,283.87L276.30,278.32L269.70,278.32Z"/>
<path d="M279.75,285.73L283.05,280.18L276.45,280.18Z"/>
<path d="M286.50,285.16L289.80,279.61L283.20,279.61Z"/>
<path d="M293.25,288.61L296.55,283.06L289.95,283.06Z"/>
<path d="M300.00,289.41L303.30,283.86L296.70,283.86Z"/>
<path d="M306.75,289.00L310.05,283.45L303.45,283.45Z"/>
<path d="M313.50,286.78L316.80,281.23L310.20,281.23Z"/>
<path d="M320.25,289.35L323.55,283.80L316.95,283.80Z"/>
<path d="M327.00,291.16L330.30,285.61L323.70,285.61Z"/>
<path d="M333.75,291.86L337.05,286.31L330.45,286.31Z"/>
<path d="M340.50,289.51L343.80,283.96L337.20,283.96Z"/>
<path d="M347.25,282.43L350.55,276.88L343.95,276.88Z"/>
<path d="M354.00,262.00L357.30,256.45L350.70,256.45Z"/>
<path d="M360.75,239.99L364.05,234.44L357.45,234.44Z"/>
<path d="M367.50,225.84L370.80,220.29L364.20,220.29Z"/>
<path d="M374.25,210.12L377.55,204.57L370.95,204.57Z"/>
<path d="M381.00,199.12L384.30,193.57L377.70,193.57Z"/>
<path d="M387.75,188.11L391.05,182.56L384.45,182.56Z"/>
<path d="M394.50,181.04L397.80,175.49L391.20,175.49Z"/>
<path d="M401.25,170.82L404.55,165.27L397.95,165.27Z"/>
<path d="M408.00,166.10L411.30,160.55L404.70,160.55Z"/>
<path d="M414.75,164.53L418.05,158.98L411.45,158.98Z"/>
<path d="M421.50,166.10L424.80,160.55L418.20,160.55Z"/>
<path d="M428.25,161.39L431.55,155.84L424.95,155.84Z"/>
<path d="M435.00,162.96L438.30,157.41L431.70,157.41Z"/>
<path d="M441.75,166.10L445.05,160.55L438.45,160.55Z"/>
<path d="M448.50,174.75L451.80,169.20L445.20,169.20Z"/>
<path d="M455.25,178.68L458.55,173.13L451.95,173.13Z"/>
<path d="M462.00,183.40L465.30,177.85L458.70,177.85Z"/>
<path d="M468.75,188.90L472.05,183.35L465.45,183.35Z"/>
<path d="M475.50,192.83L478.80,187.28L472.20,187.28Z"/>
<path d="M482.25,195.19L485.55,189.64L478.95,189.64Z"/>
<path d="M489.00,188.50L492.30,182.95L485.70,182.95Z"/>
<path d="M495.75,186.54L499.05,180.99L492.45,180.99Z"/>
<path d="M502.50,190.47L505.80,184.92L499.20,184.92Z"/>
<path d="M509.25,195.97L512.55,190.42L505.95,190.42Z"/>
<path d="M516.00,201.47L519.30,195.92L512.70,195.92Z"/>
<path d="M522.75,202.26L526.05,196.71L519.45,196.71Z"/>
<path d="M529.50,202.26L532.80,196.71L526.20,196.71Z"/>
<path d="M536.25,205.40L539.55,199.85L532.95,199.85Z"/>
<path d="M543.00,203.83L546.30,198.28L539.70,198.28Z"/>
<path d="M549.75,203.05L553.05,197.50L546.45,197.50Z"/>
<path d="M556.50,201.47L559.80,195.92L553.20,195.92Z"/>
<path d="M563.25,207.76L566.55,202.21L559.95,202.21Z"/>
<path d="M570.00,209.33L573.30,203.78L566.70,203.78Z"/>
<path d="M576.75,214.84L580.05,209.29L573.45,209.29Z"/>
<path d="M583.50,212.48L586.80,206.93L580.20,206.93Z"/>
<path d="M590.25,218.77L593.55,213.22L586.95,213.22Z"/>
<path d="M597.00,223.48L600.30,217.93L593.70,217.93Z"/>
</g>
<g stroke="#000" stroke-width="2" fill="none">
<path d="M213.0,576V809.0"/>
<path d="M206.2,809.0H562"/>
<path d="M206.2,809H213.0"/>
<path d="M206.2,763H213.0"/>
<path d="M206.2,716H213.0"/>
<path d="M206.2,670H213.0"/>
<path d="M206.2,624H213.0"/>
<path d="M206.2,577H213.0"/>
</g>
<text x="192.84" y="815.40" font-size="19.2">0</text>
<text x="171.60" y="769.04" font-size="19.2" textLength="31.34" lengthAdjust="spacing">200</text>
<text x="171.63" y="722.68" font-size="19.2" textLength="31.31" lengthAdjust="spacing">400</text>
<text x="171.60" y="676.32" font-size="19.2" textLength="31.34" lengthAdjust="spacing">600</text>
<text x="171.61" y="629.96" font-size="19.2" textLength="31.33" lengthAdjust="spacing">800</text>
<text id="o11" x="161.58" y="583.60" font-size="19.2" textLength="41.38" lengthAdjust="spacing"><tspan class="h">1</tspan>000</text>
<text id="o12" transform="translate(147.20,758.35) rotate(-90)" x="0" y="0" font-size="19.3" textLength="133.54" lengthAdjust="spacing">AUC (60-<tspan class="h">1</tspan>20 s)</text>
<defs><pattern id="hatch" patternUnits="userSpaceOnUse" width="5.9" height="5.9"><rect width="5.9" height="5.9" fill="#d9d9d9"/><path d="M-1,1L1,-1M0,5.9L5.9,0M4.9,6.9L6.9,4.9" stroke="#111" stroke-width="1.05"/></pattern></defs>
<path d="M256.5,766V763.5M245.9,763.5H267.1" stroke="#333" stroke-width="1.3" fill="none"/>
<rect x="236" y="766" width="41" height="43.0" fill="#fff" stroke="#000" stroke-width="2"/>
<path d="M256,809.0V815.6" stroke="#000" stroke-width="2"/>
<path d="M321.5,620V613.5M310.9,613.5H332.1" stroke="#333" stroke-width="1.3" fill="none"/>
<rect x="301" y="620" width="41" height="189.0" fill="url(#hatch)" stroke="#000" stroke-width="2"/>
<path d="M321,809.0V815.6" stroke="#000" stroke-width="2"/>
<path d="M387.5,644V637.5M376.9,637.5H398.1" stroke="#333" stroke-width="1.3" fill="none"/>
<rect x="367" y="644" width="41" height="165.0" fill="#d9d9d9" stroke="#000" stroke-width="2"/>
<path d="M387,809.0V815.6" stroke="#000" stroke-width="2"/>
<path d="M452.5,678V673.5M441.9,673.5H463.1" stroke="#333" stroke-width="1.3" fill="none"/>
<rect x="432" y="678" width="41" height="131.0" fill="#d9d9d9" stroke="#000" stroke-width="2"/>
<path d="M452,809.0V815.6" stroke="#000" stroke-width="2"/>
<path d="M517.5,677V672.5M506.9,672.5H528.1" stroke="#333" stroke-width="1.3" fill="none"/>
<rect x="497" y="677" width="41" height="132.0" fill="#d9d9d9" stroke="#000" stroke-width="2"/>
<path d="M517,809.0V815.6" stroke="#000" stroke-width="2"/>
<text x="313.62" y="605.00" font-size="16" textLength="15.83" lengthAdjust="spacing">**</text>
<text transform="translate(387.30,629.60) scale(1.16,1)" text-anchor="middle" font-size="12.6" style="stroke-width:0.4px">##</text>
<text transform="translate(452.50,666.00) scale(1.16,1)" text-anchor="middle" font-size="12.6" style="stroke-width:0.4px">##</text>
<text transform="translate(517.90,666.00) scale(1.16,1)" text-anchor="middle" font-size="12.6" style="stroke-width:0.4px">##</text>
<text x="79.45" y="845.60" font-size="19" textLength="124.04" lengthAdjust="spacing">GRS (µg/mL)</text>
<text id="o13" x="78.83" y="887.20" font-size="19" textLength="132.84" lengthAdjust="spacing">NPS-2<tspan class="h">1</tspan>43 (nM)</text>
<text x="251.14" y="847.40" font-size="19">0</text>
<text id="o14" x="306.57" y="847.40" font-size="19" textLength="31.36" lengthAdjust="spacing"><tspan class="h">1</tspan>00</text>
<text id="o15" x="371.38" y="847.40" font-size="19" textLength="31.66" lengthAdjust="spacing"><tspan class="h">1</tspan>00</text>
<text id="o16" x="436.47" y="847.40" font-size="19" textLength="31.76" lengthAdjust="spacing"><tspan class="h">1</tspan>00</text>
<text id="o17" x="501.68" y="847.40" font-size="19" textLength="31.66" lengthAdjust="spacing"><tspan class="h">1</tspan>00</text>
<text x="251.54" y="889.40" font-size="19">0</text>
<text x="316.54" y="889.40" font-size="19">0</text>
<text x="375.74" y="889.40" font-size="19" textLength="21.72" lengthAdjust="spacing">50</text>
<text id="o18" x="436.47" y="889.40" font-size="19" textLength="31.76" lengthAdjust="spacing"><tspan class="h">1</tspan>00</text>
<text x="501.54" y="889.40" font-size="19" textLength="31.09" lengthAdjust="spacing">500</text>
<path class="one" transform=" translate(34.413,314.000) scale(0.006152,-0.006152)" d="M763,0L583,0L583,1100Q518,1042 413,983Q307,924 223,898L223,1065Q368,1130 477,1224Q585,1317 630,1409L763,1409Z"/>
<path class="one" transform=" translate(35.413,235.000) scale(0.006152,-0.006152)" d="M763,0L583,0L583,1100Q518,1042 413,983Q307,924 223,898L223,1065Q368,1130 477,1224Q585,1317 630,1409L763,1409Z"/>
<path class="one" transform=" translate(41.413,235.000) scale(0.006152,-0.006152)" d="M763,0L583,0L583,1100Q518,1042 413,983Q307,924 223,898L223,1065Q368,1130 477,1224Q585,1317 630,1409L763,1409Z"/>
<path class="one" transform=" translate(34.413,156.000) scale(0.006152,-0.006152)" d="M763,0L583,0L583,1100Q518,1042 413,983Q307,924 223,898L223,1065Q368,1130 477,1224Q585,1317 630,1409L763,1409Z"/>
<path class="one" transform=" translate(34.413,78.000) scale(0.006152,-0.006152)" d="M763,0L583,0L583,1100Q518,1042 413,983Q307,924 223,898L223,1065Q368,1130 477,1224Q585,1317 630,1409L763,1409Z"/>
<path class="one" transform=" translate(501.413,485.000) scale(0.006152,-0.006152)" d="M763,0L583,0L583,1100Q518,1042 413,983Q307,924 223,898L223,1065Q368,1130 477,1224Q585,1317 630,1409L763,1409Z"/>
<path class="one" transform=" translate(591.413,485.000) scale(0.006152,-0.006152)" d="M763,0L583,0L583,1100Q518,1042 413,983Q307,924 223,898L223,1065Q368,1130 477,1224Q585,1317 630,1409L763,1409Z"/>
<path class="one" transform=" translate(160.129,65.000) scale(0.006641,-0.006641)" d="M763,0L583,0L583,1100Q518,1042 413,983Q307,924 223,898L223,1065Q368,1130 477,1224Q585,1317 630,1409L763,1409Z"/>
<path class="one" transform=" translate(315.129,64.000) scale(0.006641,-0.006641)" d="M763,0L583,0L583,1100Q518,1042 413,983Q307,924 223,898L223,1065Q368,1130 477,1224Q585,1317 630,1409L763,1409Z"/>
<path class="one" transform=" translate(525.015,81.000) scale(0.006836,-0.006836)" d="M763,0L583,0L583,1100Q518,1042 413,983Q307,924 223,898L223,1065Q368,1130 477,1224Q585,1317 630,1409L763,1409Z"/>
<path class="one" transform=" translate(625.015,70.000) scale(0.006836,-0.006836)" d="M763,0L583,0L583,1100Q518,1042 413,983Q307,924 223,898L223,1065Q368,1130 477,1224Q585,1317 630,1409L763,1409Z"/>
<path class="one" transform=" translate(161.534,584.000) scale(0.009375,-0.009375)" d="M763,0L583,0L583,1100Q518,1042 413,983Q307,924 223,898L223,1065Q368,1130 477,1224Q585,1317 630,1409L763,1409Z"/>
<path class="one" transform="translate(147.20,758.35) rotate(-90) translate(80.110,0.000) scale(0.009424,-0.009424)" d="M763,0L583,0L583,1100Q518,1042 413,983Q307,924 223,898L223,1065Q368,1130 477,1224Q585,1317 630,1409L763,1409Z"/>
<path class="one" transform=" translate(135.591,887.000) scale(0.009277,-0.009277)" d="M763,0L583,0L583,1100Q518,1042 413,983Q307,924 223,898L223,1065Q368,1130 477,1224Q585,1317 630,1409L763,1409Z"/>
<path class="one" transform=" translate(306.591,847.000) scale(0.009277,-0.009277)" d="M763,0L583,0L583,1100Q518,1042 413,983Q307,924 223,898L223,1065Q368,1130 477,1224Q585,1317 630,1409L763,1409Z"/>
<path class="one" transform=" translate(371.591,847.000) scale(0.009277,-0.009277)" d="M763,0L583,0L583,1100Q518,1042 413,983Q307,924 223,898L223,1065Q368,1130 477,1224Q585,1317 630,1409L763,1409Z"/>
<path class="one" transform=" translate(436.591,847.000) scale(0.009277,-0.009277)" d="M763,0L583,0L583,1100Q518,1042 413,983Q307,924 223,898L223,1065Q368,1130 477,1224Q585,1317 630,1409L763,1409Z"/>
<path class="one" transform=" translate(501.591,847.000) scale(0.009277,-0.009277)" d="M763,0L583,0L583,1100Q518,1042 413,983Q307,924 223,898L223,1065Q368,1130 477,1224Q585,1317 630,1409L763,1409Z"/>
<path class="one" transform=" translate(436.591,889.000) scale(0.009277,-0.009277)" d="M763,0L583,0L583,1100Q518,1042 413,983Q307,924 223,898L223,1065Q368,1130 477,1224Q585,1317 630,1409L763,1409Z"/></svg></body></html>
